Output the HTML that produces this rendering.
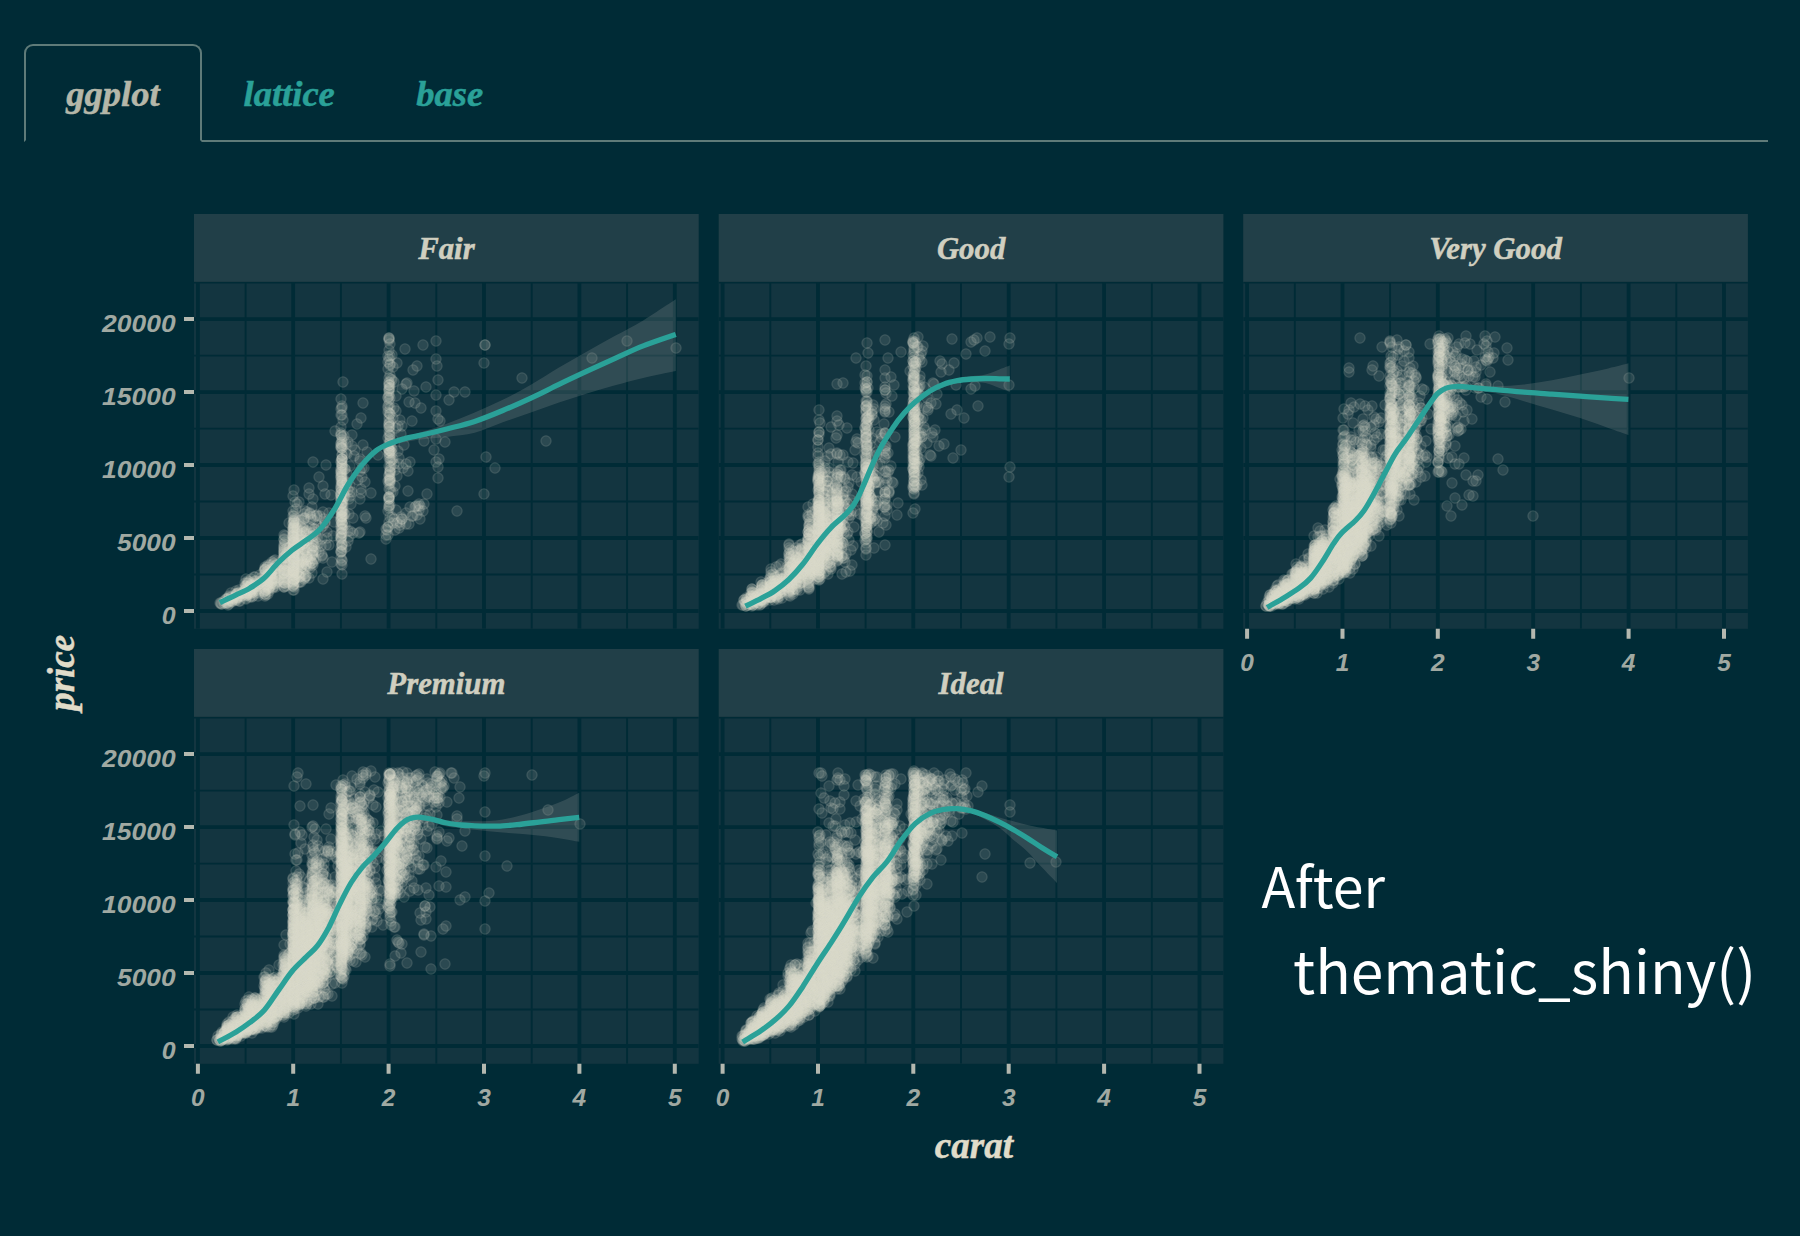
<!DOCTYPE html>
<html lang="en"><head><meta charset="utf-8"><title>thematic_shiny</title>
<style>
html,body{margin:0;padding:0;background:#002B36;}
body{width:1800px;height:1236px;position:relative;overflow:hidden;font-family:"Liberation Serif",serif;color:#EEE8D5;}
ul.nav{list-style:none;margin:0;padding:0;position:absolute;left:24px;top:44px;width:1744px;height:96px;border-bottom:2px solid #5f7b79;display:flex;}
ul.nav li{margin:0 0 -2px 0;}
ul.nav a{display:block;box-sizing:border-box;height:98px;text-align:center;border:2px solid transparent;border-radius:9px 9px 0 0;color:#2AA198;text-decoration:none;font:italic bold 36.5px/96px "Liberation Serif",serif;-webkit-text-stroke:.5px currentColor;}
ul.nav li.active a{color:#b5b7a9;border-color:#5f7b79 #5f7b79 #002B36 #5f7b79;background:#002B36;}
svg.plot{position:absolute;left:0;top:0;}
.st{font:italic bold 30.8px "Liberation Serif",serif;fill:#d0cfc0;stroke:#d0cfc0;stroke-width:.5px;text-anchor:middle;}
.tk{font:italic bold 23px "Liberation Sans",sans-serif;fill:#a0a9a2;}
.ax{font:italic bold 37px "Liberation Serif",serif;fill:#e0dcc9;stroke:#e0dcc9;stroke-width:.5px;}
.note{font:57px "Noto Sans CJK JP","Liberation Sans",sans-serif;fill:#ffffff;}
</style></head><body>
<ul class="nav"><li class="active"><a style="width:178px">ggplot</a></li><li><a style="width:174.4px">lattice</a></li><li><a style="width:146.6px">base</a></li></ul>
<svg class="plot" role="img" aria-label="price versus carat by cut" width="1800" height="1236" viewBox="0 0 1800 1236">
<defs><marker id="m" markerWidth="14" markerHeight="14" refX="7" refY="7" markerUnits="userSpaceOnUse"><circle cx="7" cy="7" r="4.2" fill="#dddccc" fill-opacity=".12"/><circle cx="7" cy="7" r="4.9" fill="none" stroke="#dddccc" stroke-opacity=".2" stroke-width="1.5"/></marker>
<clipPath id="c0"><rect x="194.0" y="281.9" width="504.7" height="346.9"/></clipPath>
<clipPath id="c1"><rect x="718.7" y="281.9" width="504.7" height="346.9"/></clipPath>
<clipPath id="c2"><rect x="1243.2" y="281.9" width="504.7" height="346.9"/></clipPath>
<clipPath id="c3"><rect x="194.0" y="716.9" width="504.7" height="346.9"/></clipPath>
<clipPath id="c4"><rect x="718.7" y="716.9" width="504.7" height="346.9"/></clipPath>
</defs>
<g class="panel">
<rect x="194.0" y="214.0" width="504.7" height="67.9" fill="#213f48"/>
<rect x="194.0" y="281.9" width="504.7" height="346.9" fill="#133540"/>
<g clip-path="url(#c0)">
<path d="M245.6 281.9V628.8M340.9 281.9V628.8M436.3 281.9V628.8M531.7 281.9V628.8M627.1 281.9V628.8M194.0 574.5H698.7M194.0 501.5H698.7M194.0 428.6H698.7M194.0 355.6H698.7M194.0 282.6H698.7" stroke="#002B36" stroke-width="1.9" fill="none"/>
<path d="M197.9 281.9V628.8M293.2 281.9V628.8M388.6 281.9V628.8M484.0 281.9V628.8M579.4 281.9V628.8M674.8 281.9V628.8M194.0 611.0H698.7M194.0 538.0H698.7M194.0 465.0H698.7M194.0 392.1H698.7M194.0 319.1H698.7" stroke="#002B36" stroke-width="3.8" fill="none"/>
<polyline points="267,576 293,567 236,594 415,507 293,550 231,597 271,577 284,573 284,535 405,349 245,588 256,587 301,534 343,503 266,585 303,554 264,580 342,551 304,546 293,524 322,556 265,594 419,510 294,553 341,552 298,560 390,453 265,589 264,581 294,557 390,472 284,562 252,593 294,523 293,559 284,562 302,547 408,471 301,576 299,564 294,579 362,468 341,539 284,573 285,571 389,388 392,517 390,451 284,556 284,550 287,571 304,514 301,572 289,548 247,591 265,575 305,550 265,581 390,458 236,595 288,582 293,567 260,584 298,551 417,515 264,592 265,577 293,549 265,587 342,463 270,576 284,573 293,554 294,556 293,559 284,564 265,591 239,596 293,540 284,558 294,553 266,578 300,531 237,597 389,378 245,592 341,477 390,408 256,582 294,562 293,572 294,555 251,591 295,552 350,486 248,587 306,557 367,452 293,582 258,589 342,529 266,590 307,547 341,529 341,504 284,587 268,578 247,583 314,532 400,420 391,492 245,593 250,590 296,574 294,556 296,545 255,581 265,578 389,508 246,595 293,555 389,339 278,568 245,590 293,582 293,551 252,589 230,601 266,584 266,590 284,567 267,584 296,563 236,599 294,571 284,560 252,591 265,585 248,593 297,528 296,546 389,383 294,563 284,575 341,500 294,543 293,547 306,532 284,558 302,567 391,447 265,569 284,582 299,577 293,533 294,542 293,541 227,599 294,561 255,589 307,553 343,483 246,590 248,594 267,580 342,560 294,560 229,596 343,525 246,586 423,345 236,597 329,545 248,581 406,464 247,593 248,590 298,549 341,489 237,594 388,408 392,453 322,555 351,504 341,525 255,586 294,558 389,458 449,400 390,414 342,513 284,564 297,567 294,566 293,548 286,557 406,384 315,535 297,504 300,540 299,541 284,566 319,477 267,585 284,570 245,593 402,519 236,598 251,585 247,595 390,436 386,529 342,503 312,555 303,560 389,450 253,589 294,565 390,489 302,557 293,543 343,529 304,549 265,574 293,566 295,552 342,515 249,588 294,549 299,574 391,451 228,602 389,480 283,565 294,542 293,562 228,600 247,593 294,540 293,540 268,579 238,595 342,529 299,556 397,523 312,563 268,594 423,511 284,572 294,545 295,538 312,553 400,522 307,531 396,428 389,389 388,406 245,586 400,525 312,507 295,578 293,537 357,424 341,499 284,586 297,534 296,523 294,566 341,469 349,499 256,585 454,392 389,424 239,593 293,543 390,356 389,390 284,554 341,495 254,586 267,581 293,557 236,596 293,558 262,581 389,453 284,554 239,601 349,514 436,462 294,575 255,584 348,490 284,578 265,596 294,572 227,599 245,590 341,547 245,594 399,464 312,548 270,570 305,550 238,593 278,574 342,548 305,546 294,531 418,506 304,574 284,552 285,575 342,545 341,519 345,485 247,595 293,549 371,559 409,402 313,546 305,536 265,569 342,459 293,536 243,593 342,509 294,576 293,532 300,577 304,530 284,544 342,506 275,568 254,577 294,579 399,458 298,569 294,560 314,546 396,396 341,505 321,546 303,562 293,586 228,601 294,559 274,570 389,450 294,552 342,496 308,540 221,604 390,441 341,527 287,576 302,561 420,506 341,513 246,589 294,542 298,550 293,535 294,527 324,519 389,497 299,547 341,435 269,574 277,565 342,480 389,420 307,557 294,568 389,475 314,559 284,580 342,519 342,483 421,408 228,603 293,555 294,546 350,492 341,510 294,522 236,591 395,486 352,446 394,408 345,469 273,579 284,580 294,549 438,467 306,541 246,596 302,559 274,569 327,538 246,586 390,467 389,340 294,532 342,445 284,557 323,579 396,510 294,572 388,511 300,549 342,511 301,536 229,597 294,551 342,565 243,592 250,587 293,571 341,472 236,600 393,418 426,387 391,379 255,586 294,580 342,545 313,555 293,544 371,493 284,570 360,499 284,579 294,568 256,590 307,541 294,535 252,597 424,441 346,453 627,341 250,590 341,494 397,363 260,575 389,338 389,394 389,499 303,563 233,598 293,573 309,566 313,551 289,523 352,492 342,533 390,398 294,529 389,443 257,584 246,579 307,512 299,565 299,539 363,445 297,530 226,602 290,565 231,600 293,529 293,562 323,526 389,497 293,570 285,542 389,400 284,546 297,556 288,562 250,586 294,569 226,603 293,523 294,534 390,435 317,515 280,570 251,592 294,569 293,568 299,520 237,593 305,511 312,548 273,587 294,575 259,593 352,435 389,425 233,599 261,578 437,366 297,572 410,462 344,514 232,601 267,575 439,459 361,418 237,594 232,602 389,455 284,587 293,496 226,599 294,579 389,484 393,459 343,469 389,476 302,542 297,548 344,436 289,552 284,557 304,519 293,581 287,578 407,383 341,541 253,585 325,523 294,537 342,406 271,574 301,568 341,492 272,582 293,530 294,584 592,358 291,575 485,345 250,593 345,496 389,489 276,569 266,595 303,552 294,545 313,551 342,523 247,587 312,555 264,571 229,598 390,474 341,500 341,517 300,542 270,573 224,603 290,547 387,530 268,586 341,495 406,513 388,448 268,575 390,414 342,474 309,547 294,537 252,583 284,552 268,584 305,578 272,571 341,551 390,385 272,579 240,601 276,565 342,448 295,579 294,540 275,579 265,570 342,481 389,427 300,545 293,536 301,562 256,583 290,553 293,586 303,564 239,590 390,481 341,504 279,578 390,481 388,481 398,451 273,564 253,596 285,583 341,512 342,544 341,399 271,576 401,434 389,499 389,385 349,537 277,568 310,527 350,496 343,506 273,588 389,396 390,426 341,497 267,587 293,527 302,540 278,581 301,520 309,538 299,502 279,566 293,528 484,363 232,601 310,513 284,550 277,580 389,506 248,584 396,411 394,382 253,592 359,533 295,525 342,459 309,494 342,525 298,543 341,485 242,593 341,488 231,598 316,551 300,582 275,572 221,603 284,583 306,534 285,558 343,382 390,471 334,522 274,583 341,517 287,553 248,583 293,579 401,517 275,586 389,423 341,448 289,572 273,578 268,582 342,468 307,566 304,518 402,426 394,464 392,355 361,493 390,478 344,492 250,594 342,465 265,570 342,408 298,563 284,539 389,350 364,468 361,489 293,571 274,581 346,547 281,562 389,497 342,523 414,391 389,435 350,531 486,457 269,589 313,499 306,576 326,465 284,577 408,491 346,444 304,561 341,552 438,478 251,596 342,574 307,543 341,446 360,471 299,576 342,465 308,560 393,523 284,548 343,420 436,411 347,474 299,562 316,542 276,578 388,369 272,569 237,600 347,483 390,479 229,604 237,598 393,367 271,574 306,564 341,509 390,365 389,427 318,526 309,578 394,519 395,530 342,459 341,538 390,422 391,466 389,404 257,586 284,547 436,359 271,572 282,564 354,456 388,362 303,543 227,603 274,573 389,449 389,522 255,577 315,529 348,531 389,466 268,567 275,584 287,570 298,548 275,578 388,527 484,494 313,536 228,605 313,543 321,528 294,584 287,548 265,594 293,590 345,469 390,505 342,516 312,573 286,558 320,516 341,427 348,541 301,543 259,591 311,519 314,529 264,591 254,588 390,439 312,528 341,478 272,562 390,443 323,558 362,477 269,588 438,380 304,533 413,516 350,466 299,582 386,535 341,487 299,564 302,565 326,545 268,571 329,513 313,553 342,523 261,581 270,586 293,511 275,560 427,494 310,514 311,533 345,514 285,536 303,544 313,565 390,472 365,482 312,541 412,516 341,481 342,536 348,442 342,490 390,451 419,504 270,565 390,388 300,524 294,519 246,599 389,453 341,443 294,521 392,380 388,356 283,582 238,598 390,480 274,584 392,460 319,552 263,584 485,345 342,561 436,341 416,506 390,344 268,588 316,536 355,450 308,559 270,575 363,403 304,568 389,446 389,338 390,483 238,597 390,432 342,437 306,564 388,412 341,558 317,537 306,576 250,597 388,438 306,565 220,603 341,415 303,550 413,370 267,567 342,501 341,433 522,378 305,577 258,596 231,593 388,398 335,431 265,567 341,534 342,448 341,447 389,498 389,413 445,442 388,397 345,489 293,573 390,445 341,474 323,486 276,573 342,478 323,512 390,470 268,565 297,573 353,518 440,421 398,426 277,574 342,533 318,544 436,439 345,525 436,395 277,582 271,573 312,536 390,517 272,583 341,537 256,581 304,579 304,529 307,557 402,519 266,572 389,502 255,587 309,488 294,521 342,459 315,547 546,441 341,472 389,385 300,539 360,461 293,516 438,419 305,518 302,531 303,526 388,527 287,572 342,442 288,573 404,445 342,455 300,545 294,514 393,492 275,566 409,524 303,544 259,584 310,559 343,499 313,563 390,364 342,455 341,537 341,463 322,539 341,564 325,522 389,359 302,558 313,462 341,520 325,494 417,366 390,375 274,561 392,449 251,579 341,470 347,482 342,485 424,504 268,585 249,582 312,563 344,495 389,431 397,476 294,490 286,565 246,598 241,596 342,516 256,591 366,518 301,536 391,460 360,532 293,585 293,575 365,516 313,520 415,403 300,556 294,526 260,586 276,587 296,509 311,561 342,512 399,528 360,459 317,516 389,417 262,581 341,492 294,528 342,503 242,596 465,392 316,559 395,470 327,532 402,389 403,468 388,535 274,563 343,517 286,571 297,531 310,562 286,555 344,496 294,520 676,348 347,454 353,533 342,482 332,562 341,533 272,580 341,476 343,511 327,572 341,521 406,524 341,444 386,539 301,582 294,587 270,587 342,476 434,450 420,519 389,382 251,585 341,409 342,461 342,440 302,528 358,480 274,568 307,557 294,590 342,484 305,569 290,555 389,506 294,580 457,511 285,583 333,536 224,601 495,468 299,574 294,516 410,507 315,516 342,517 256,593 412,421 331,495 311,517 286,586 378,455 390,461 303,540 222,604 341,461 295,502 304,532 271,583 342,472 310,568 342,415 284,540 341,435 269,591 342,466 389,391 245,583 304,543" fill="none" stroke="none" marker-start="url(#m)" marker-mid="url(#m)" marker-end="url(#m)"/>
<path d="M390.5 442.2C395.2 440.7 409.2 436.0 418.6 432.9C428.0 429.9 437.3 427.1 446.7 423.7C456.0 420.3 465.4 416.4 474.7 412.4C484.1 408.5 493.5 404.4 502.8 399.8C512.2 395.2 521.5 390.0 530.9 384.7C540.3 379.3 549.6 373.0 559.0 367.5C568.3 362.0 577.7 356.8 587.0 351.5C596.4 346.2 605.8 341.0 615.1 335.8C624.5 330.6 633.1 326.4 643.2 320.4C653.3 314.3 670.3 302.8 675.8 299.3L675.8 370.9C670.3 372.1 653.3 375.5 643.2 377.9C633.1 380.3 624.5 382.6 615.1 385.2C605.8 387.8 596.4 390.5 587.0 393.4C577.7 396.3 568.3 399.4 559.0 402.6C549.6 405.8 540.3 409.2 530.9 412.4C521.5 415.7 512.2 418.9 502.8 422.3C493.5 425.6 484.1 430.2 474.7 432.7C465.4 435.1 456.0 435.7 446.7 436.9C437.3 438.0 428.0 438.4 418.6 439.7C409.2 441.0 395.2 443.9 390.5 444.7Z" fill="#99a09c" fill-opacity=".22"/>
<path d="M219.8 602.5C222.5 601.2 231.1 597.4 236.1 594.9C241.2 592.5 245.5 590.7 250.1 587.9C254.8 585.1 259.5 582.3 264.2 578.1C268.9 573.9 273.5 567.3 278.2 562.6C282.9 558.0 287.6 553.8 292.3 550.0C296.9 546.3 301.6 543.7 306.3 540.2C311.0 536.7 315.7 534.1 320.3 529.0C325.0 523.8 329.7 516.8 334.4 509.3C339.1 501.8 343.7 491.5 348.4 484.0C353.1 476.5 357.8 470.0 362.4 464.4C367.1 458.8 371.8 453.9 376.5 450.3C381.2 446.8 385.8 445.3 390.5 443.3C395.2 441.4 399.9 439.8 404.6 438.6C409.2 437.3 411.6 437.3 418.6 435.7C425.6 434.2 437.3 431.4 446.7 429.0C456.0 426.6 465.4 424.5 474.7 421.4C484.1 418.3 493.5 414.4 502.8 410.5C512.2 406.6 521.5 402.5 530.9 398.1C540.3 393.8 549.6 388.9 559.0 384.4C568.3 379.9 577.7 375.5 587.0 371.2C596.4 366.8 605.8 362.5 615.1 358.3C624.5 354.1 633.1 349.9 643.2 345.9C653.3 341.9 670.3 336.3 675.8 334.4" fill="none" stroke="#2AA198" stroke-width="5.3" stroke-linejoin="round"/>
</g>
<text class="st" x="446.4" y="259.0">Fair</text>
</g>
<g class="panel">
<rect x="718.7" y="214.0" width="504.7" height="67.9" fill="#213f48"/>
<rect x="718.7" y="281.9" width="504.7" height="346.9" fill="#133540"/>
<g clip-path="url(#c1)">
<path d="M770.3 281.9V628.8M865.6 281.9V628.8M961.0 281.9V628.8M1056.4 281.9V628.8M1151.8 281.9V628.8M718.7 574.5H1223.4M718.7 501.5H1223.4M718.7 428.6H1223.4M718.7 355.6H1223.4M718.7 282.6H1223.4" stroke="#002B36" stroke-width="1.9" fill="none"/>
<path d="M722.6 281.9V628.8M818.0 281.9V628.8M913.3 281.9V628.8M1008.7 281.9V628.8M1104.1 281.9V628.8M1199.5 281.9V628.8M718.7 611.0H1223.4M718.7 538.0H1223.4M718.7 465.0H1223.4M718.7 392.1H1223.4M718.7 319.1H1223.4" stroke="#002B36" stroke-width="3.8" fill="none"/>
<polyline points="914,481 819,513 790,568 809,577 790,571 790,581 751,603 776,588 865,499 843,455 762,588 819,555 818,537 753,601 790,576 771,588 819,542 808,579 790,550 761,600 819,511 819,435 824,551 752,601 914,439 808,579 809,560 747,602 789,568 865,428 809,563 773,590 866,493 808,549 761,601 825,472 881,434 842,574 809,534 790,582 756,594 914,481 778,577 798,578 752,604 771,588 819,529 762,600 818,577 771,569 810,554 789,581 838,493 790,583 754,599 830,567 761,604 975,386 914,459 790,562 789,570 809,571 767,590 771,586 789,573 809,547 799,584 808,557 754,601 809,581 808,562 819,528 845,508 757,602 791,573 819,543 789,583 762,597 808,532 808,551 797,577 914,415 811,560 819,568 759,598 789,584 848,487 809,559 825,508 867,481 789,569 790,567 796,584 771,591 819,507 914,473 819,553 913,444 809,548 752,604 755,601 818,570 868,388 796,571 803,574 751,599 776,595 883,523 789,576 790,571 808,560 787,586 818,534 827,481 755,597 776,596 751,604 755,598 800,561 809,567 803,574 789,592 771,588 867,382 819,565 762,593 781,592 770,591 818,518 819,562 819,534 819,538 790,561 789,587 790,588 785,586 866,517 784,578 790,578 809,574 810,545 818,528 751,597 859,501 773,592 885,451 791,563 789,577 770,587 817,569 820,556 753,590 794,568 818,553 808,555 789,567 771,591 747,605 805,570 755,600 759,600 765,593 818,536 808,517 789,562 809,540 818,506 818,554 792,569 752,592 810,565 775,581 786,575 820,543 808,538 789,587 757,596 819,563 818,565 798,573 818,557 770,591 833,519 782,585 745,602 751,596 820,503 804,567 839,549 762,599 758,595 808,561 761,596 833,531 770,587 771,592 809,567 830,544 809,570 758,598 838,504 827,481 770,583 868,503 819,523 779,591 758,601 745,604 825,468 774,595 809,557 761,600 772,594 770,589 867,509 913,408 837,539 765,594 915,423 809,552 790,567 793,566 821,472 764,599 809,556 796,572 819,526 754,602 821,501 752,598 837,512 763,594 819,510 843,543 800,579 773,591 865,375 762,587 777,589 818,478 775,588 809,572 763,602 808,539 763,597 779,566 746,603 757,597 796,583 847,534 827,528 770,592 836,493 771,597 914,426 811,565 751,596 818,507 818,502 770,579 780,590 759,599 779,588 809,566 782,586 923,418 761,590 762,593 746,606 762,599 867,513 789,548 866,494 913,375 914,454 867,437 865,383 756,597 771,597 815,511 770,586 825,495 868,470 848,504 793,563 848,462 818,515 795,570 844,501 764,600 809,550 819,564 810,544 819,533 866,490 866,500 750,604 827,500 781,583 796,578 914,430 914,450 818,570 755,603 914,379 789,591 837,533 808,578 808,568 819,555 819,559 795,580 915,463 818,456 936,404 843,383 839,539 793,594 752,589 868,469 914,428 914,363 810,560 914,439 917,485 808,544 914,440 819,538 809,526 761,595 819,521 819,561 837,517 914,399 828,536 819,506 795,576 799,577 866,458 771,588 808,544 832,494 866,526 810,577 800,564 842,556 914,421 823,549 819,541 792,577 770,597 819,513 914,443 914,410 775,584 818,547 868,505 819,558 814,562 818,521 845,500 867,511 914,376 822,533 782,581 842,520 797,566 775,587 838,511 774,583 869,518 821,511 851,550 760,594 826,552 796,564 869,497 770,596 764,602 913,366 770,580 826,539 914,435 771,595 795,560 868,417 867,472 823,477 837,514 799,586 792,578 866,512 837,497 851,500 780,587 753,593 867,491 772,584 779,583 781,585 748,602 819,523 819,557 818,533 884,507 914,386 770,594 747,599 753,605 818,551 819,568 838,544 790,589 819,548 763,600 866,434 819,473 850,571 819,558 809,572 866,437 831,552 867,499 870,479 842,531 838,555 915,437 809,524 867,402 771,585 753,605 792,579 796,570 913,467 915,362 819,519 819,512 802,552 818,540 789,590 819,567 837,546 866,479 820,423 811,566 867,492 812,515 791,556 918,473 819,542 886,478 867,446 798,562 829,528 837,435 828,517 819,522 835,485 837,561 819,558 771,597 837,502 839,425 819,524 780,581 838,547 839,521 809,550 915,435 819,545 844,492 887,510 866,450 826,553 915,405 774,592 818,548 827,543 818,535 776,595 818,532 789,593 820,553 914,338 843,543 801,583 831,427 792,581 809,535 865,454 799,567 914,367 865,428 866,506 827,507 861,482 802,570 792,584 838,557 824,536 914,389 894,385 841,544 916,442 884,457 793,564 771,582 819,513 927,443 747,599 831,454 832,545 775,592 822,474 914,460 868,498 915,472 753,596 866,456 913,405 867,523 820,557 828,555 868,353 867,526 829,532 778,599 748,605 815,558 892,482 831,536 809,526 818,563 827,512 824,512 821,483 825,552 819,571 810,565 922,362 810,572 819,466 819,522 819,564 914,396 867,483 866,474 837,524 831,520 818,541 866,486 799,558 799,559 916,415 820,538 914,456 819,528 837,524 818,550 801,582 855,511 828,544 762,585 779,594 754,596 753,592 914,433 775,592 873,473 808,532 914,456 799,560 875,519 833,544 826,523 808,539 777,593 754,593 819,543 822,555 766,598 797,566 825,517 818,543 913,469 837,536 792,584 913,456 819,462 819,548 920,437 819,565 924,387 868,474 860,514 776,584 822,561 771,585 789,558 866,459 866,555 819,551 885,340 871,517 949,370 869,504 915,410 819,543 914,417 845,562 866,493 818,510 857,439 839,540 770,582 868,420 913,405 825,552 819,560 836,495 846,491 838,535 886,393 819,563 782,598 820,531 915,448 875,475 913,343 812,536 783,579 915,377 867,532 838,477 819,577 802,569 839,504 834,539 819,558 818,529 825,513 844,533 914,378 914,413 821,551 823,519 819,516 780,596 797,561 819,510 853,546 830,536 827,519 821,531 825,461 819,516 775,581 829,548 777,586 882,438 819,535 875,505 867,524 941,372 818,516 885,390 914,388 914,387 836,508 800,581 914,437 913,341 829,534 866,423 873,508 914,421 829,504 800,590 843,498 866,523 919,387 1010,338 819,574 820,525 914,457 913,355 913,412 826,515 837,490 820,547 771,598 822,548 809,534 835,549 776,584 819,574 763,593 793,573 914,484 806,566 819,538 780,593 811,552 865,474 819,559 849,515 820,526 818,482 782,579 764,601 808,574 768,594 866,468 818,500 886,525 794,579 837,421 810,570 819,567 810,556 915,486 809,529 784,590 914,468 823,493 799,568 803,582 847,513 802,560 917,466 951,414 852,565 837,516 802,572 837,532 876,505 914,472 867,485 870,445 824,564 866,503 820,579 867,483 866,442 822,523 841,476 937,394 778,597 832,549 914,435 914,472 834,551 801,550 869,494 871,498 842,542 803,574 819,552 867,513 818,510 771,597 808,541 867,453 759,603 867,539 885,492 866,548 819,492 865,509 826,486 843,495 795,589 838,528 820,550 771,585 810,575 990,337 779,590 818,480 820,570 834,522 866,438 856,442 866,432 818,527 913,392 818,502 866,439 830,563 920,380 797,570 866,410 914,450 885,485 767,596 818,576 801,556 895,437 749,603 866,431 823,561 792,590 742,605 838,560 866,536 801,557 819,488 866,467 814,567 829,541 809,519 775,577 797,573 829,555 800,564 866,449 808,541 915,412 766,597 790,559 869,487 889,412 799,569 744,600 838,532 776,587 819,543 838,538 819,580 952,339 872,476 819,485 820,515 822,546 801,577 840,520 803,571 818,524 794,571 866,429 761,582 866,508 780,579 819,420 818,481 823,547 829,528 818,490 910,371 838,554 808,583 819,495 810,552 913,447 781,590 867,426 839,513 776,567 781,583 801,562 751,593 866,446 782,583 780,587 814,561 815,579 810,569 838,517 810,557 879,532 919,394 786,577 837,384 872,510 819,432 914,350 851,511 786,582 810,559 832,524 824,493 828,476 826,542 796,567 829,551 810,574 942,364 808,574 914,481 819,474 838,518 866,523 865,534 800,564 822,481 932,433 827,524 867,526 819,476 916,363 823,545 837,478 914,443 836,505 939,446 818,453 795,573 866,457 842,548 810,536 865,388 913,463 880,464 886,454 778,594 810,551 760,603 812,526 867,537 830,491 866,463 792,587 914,392 818,518 866,504 826,548 814,543 792,582 793,576 777,580 885,471 828,544 837,501 914,357 865,497 819,516 834,525 777,585 800,549 838,552 924,427 866,503 829,511 819,493 824,499 796,558 783,589 802,566 819,487 802,558 824,573 852,475 812,512 819,521 800,570 831,547 919,357 838,527 928,408 956,385 801,550 869,489 819,468 791,554 838,526 813,554 825,539 865,472 878,466 914,392 913,459 876,452 888,453 914,487 880,442 915,444 771,581 866,401 816,544 844,558 786,587 829,448 837,508 917,464 814,566 866,464 763,591 866,424 842,556 812,573 781,589 825,564 875,501 770,597 779,585 915,366 761,590 815,535 809,583 827,563 853,463 814,568 914,477 920,459 819,500 1009,477 793,589 843,525 918,417 928,410 837,499 919,467 832,507 793,563 922,437 867,488 801,573 870,475 829,555 913,386 866,513 838,542 875,482 838,507 841,523 825,511 914,477 897,515 914,494 825,514 872,500 758,603 833,536 793,572 766,594 837,487 913,488 918,458 771,575 787,567 851,515 917,395 814,551 831,500 821,486 809,589 913,381 913,445 827,545 864,517 819,410 915,460 914,403 808,507 867,392 829,472 873,405 792,565 873,510 919,415 879,482 765,597 819,530 866,419 877,521 823,550 834,488 762,594 838,475 866,549 865,540 799,577 818,440 866,514 802,561 914,400 824,485 799,574 752,606 866,505 866,518 831,527 818,479 823,548 837,551 914,398 832,542 867,417 824,530 812,564 885,507 819,504 810,544 913,453 843,558 839,503 845,479 914,344 865,473 914,407 872,411 914,373 877,432 779,588 837,515 789,545 830,518 914,449 953,458 916,439 767,591 780,581 885,370 917,347 757,605 792,573 838,505 868,475 811,532 802,568 798,551 819,490 1009,385 749,599 913,361 825,555 819,500 832,542 744,600 805,547 836,438 793,551 840,455 885,448 827,530 814,564 838,522 866,392 826,534 764,588 837,542 811,548 819,500 840,528 799,578 838,535 802,562 824,514 819,475 914,387 767,597 921,448 914,463 837,545 871,475 785,585 866,528 833,516 914,377 971,389 799,573 885,446 825,557 933,383 832,539 831,496 915,464 869,430 752,589 865,488 809,534 829,544 837,524 920,360 835,519 870,470 917,455 919,419 799,573 867,444 833,529 867,483 866,467 891,466 885,412 868,471 822,523 813,555 815,529 825,533 866,418 829,528 814,570 781,579 835,540 914,424 743,605 914,381 885,499 819,536 977,338 767,583 837,556 797,563 871,523 866,438 915,455 813,535 917,405 781,564 919,462 824,548 826,516 858,443 819,503 820,534 866,444 794,572 827,519 809,530 837,547 884,424 885,390 916,367 915,430 914,459 811,558 837,454 777,582 836,521 885,458 831,534 913,401 873,521 800,583 786,579 875,483 887,481 819,506 869,465 918,337 867,422 933,437 771,572 847,428 838,506 917,387 809,585 873,478 826,534 820,521 844,477 782,592 789,553 886,404 874,409 914,485 914,431 885,545 828,574 777,577 826,541 978,406 792,567 916,391 774,575 746,606 804,561 840,470 838,520 820,483 914,445 921,420 830,518 799,572 920,376 887,505 833,531 825,522 838,501 823,558 813,541 914,431 760,605 866,501 812,551 868,490 814,560 914,424 926,407 870,467 913,418 914,373 802,548 865,464 764,587 831,530 889,493 867,382 869,500 786,578 870,519 838,545 914,493 828,456 915,406 810,551 828,553 839,531 974,340 819,506 913,450 820,573 964,418 866,539 824,506 820,478 1009,344 837,501 866,478 866,476 914,466 796,574 819,577 916,476 931,456 867,468 914,475 815,537 823,540 849,518 866,521 819,479 865,533 944,444 866,488 819,464 813,551 828,481 821,575 819,489 828,511 914,489 865,517 841,548 808,515 828,502 867,520 834,537 776,597 789,544 826,551 837,525 819,471 827,552 869,486 868,479 813,566 789,556 837,498 867,532 800,545 877,482 813,556 914,348 823,538 919,433 810,522 826,537 837,489 822,559 913,378 818,579 866,434 810,568 832,536 874,516 915,509 872,415 852,494 822,520 824,544 819,507 831,567 838,559 826,523 841,516 841,529 866,366 915,422 866,461 819,565 915,369 823,534 827,538 872,465 1010,467 828,491 833,559 868,483 835,501 826,515 866,413 804,559 819,571 892,396 819,517 832,477 819,477 829,559 827,528 841,517 818,464 825,498 816,529 866,468 869,486 818,440 885,406 837,523 957,410 775,578 784,581 868,503 923,346 874,479 885,505 835,531 815,575 814,552 825,504 914,403 844,525 819,530 828,548 868,409 799,558 867,425 814,570 796,548 836,529 809,588 921,480 809,516 931,403 789,591 867,405 830,548 781,573 796,589 846,554 914,428 766,589 885,494 866,407 819,485 848,511 823,520 830,566 832,555 914,414 826,571 921,354 871,518 801,551 918,423 876,482 848,532 819,566 808,587 915,443 789,554 849,540 913,361 838,520 866,497 843,519 819,493 913,380 822,521 874,420 916,427 916,467 841,470 770,578 845,527 922,437 811,571 961,450 843,505 827,490 777,598 872,414 837,500 834,508 869,494 826,522 831,541 773,581 793,592 866,528 885,492 830,563 854,527 829,529 866,465 797,590 824,523 885,411 866,390 818,447 914,363 866,411 916,441 837,488 824,556 823,523 807,560 885,378 812,548 802,566 885,433 838,508 809,530 815,564 762,585 901,352 870,495 842,487 792,586 837,453 825,503 925,430 885,433 867,480 833,524 797,582 889,492 802,544 918,394 823,512 835,541 935,430 915,423 794,555 888,472 823,525 872,438 913,417 867,418 802,562 915,477 811,547 819,505 822,562 915,370 857,477 922,351 746,602 774,600 814,546 784,586 866,386 829,555 813,504 885,409 889,491 837,556 885,499 966,354 826,547 891,377 828,562 807,576 786,570 916,362 866,433 837,525 831,546 830,538 833,503 838,532 866,543 838,529 810,576 868,501 762,585 838,555 867,530 915,434 885,516 793,556 873,466 915,412 828,530 819,487 841,528 837,474 867,510 869,507 916,393 866,471 913,469 846,572 840,524 868,465 893,483 820,570 823,537 831,534 773,574 837,555 837,524 886,472 916,450 866,389 921,433 828,486 914,352 825,545 837,513 871,455 840,526 866,406 869,516 834,543 878,501 819,432 886,446 838,462 920,386 914,471 795,561 835,514 795,583 785,583 831,569 885,434 876,476 818,476 746,598 869,489 804,566 917,441 869,486 837,502 814,568 784,585 820,509 796,557 762,586 869,416 849,483 856,358 832,502 797,580 805,571 837,482 812,561 878,492 867,451 833,550 846,509 913,343 915,420 866,406 913,513 940,361 922,485 770,600 918,347 885,387 871,498 823,511 916,487 914,464 829,541 811,563 914,394 841,477 837,531 789,595 837,554 934,384 927,398 867,376 954,363 867,401 930,455 804,553 888,358 837,551 867,445 830,507 985,351 819,498 780,575 809,587 867,343 823,558 810,570 821,570 898,503 832,488 827,553 837,535 810,524 877,455 837,416 866,498 829,468 795,552 790,557 913,486 841,498 917,447 915,342 869,419 828,532 855,450 790,596 867,449 781,574 827,564 837,508 889,470 848,504 825,528 837,495 913,342 918,388 971,342 914,419 813,574 788,580 838,472 874,548 837,541 915,411 802,578" fill="none" stroke="none" marker-start="url(#m)" marker-mid="url(#m)" marker-end="url(#m)"/>
<path d="M929.3 390.3C933.9 388.3 950.3 380.8 957.3 378.5C964.4 376.1 966.7 376.9 971.4 376.2C976.0 375.6 980.7 375.7 985.4 374.5C990.1 373.4 995.4 371.0 999.4 369.5C1003.5 368.0 1008.1 366.2 1009.8 365.6L1009.8 392.0C1008.1 391.3 1003.5 389.5 999.4 388.0C995.4 386.5 990.1 383.9 985.4 383.0C980.7 382.0 976.0 382.4 971.4 382.4C966.7 382.4 964.4 381.3 957.3 383.0C950.3 384.7 933.9 390.9 929.3 392.5Z" fill="#99a09c" fill-opacity=".22"/>
<path d="M745.4 606.2C747.9 604.9 755.9 601.2 760.8 598.6C765.7 596.0 770.2 593.9 774.8 590.7C779.5 587.5 784.2 583.9 788.9 579.5C793.6 575.0 798.2 569.9 802.9 564.0C807.6 558.2 812.3 550.5 817.0 544.4C821.6 538.3 826.3 532.5 831.0 527.6C835.7 522.6 841.3 518.7 845.0 514.9C848.8 511.2 851.1 508.4 853.5 505.1C855.8 501.8 857.2 499.0 859.1 495.3C860.9 491.5 862.3 488.0 864.7 482.6C867.0 477.3 870.3 469.1 873.1 463.0C875.9 456.9 878.3 452.0 881.5 446.1C884.8 440.3 889.0 433.4 892.8 427.9C896.5 422.4 900.2 417.6 904.0 413.3C907.7 409.0 911.0 405.7 915.2 402.1C919.4 398.4 924.6 394.3 929.3 391.4C933.9 388.4 938.6 386.1 943.3 384.4C948.0 382.6 952.7 381.6 957.3 380.7C962.0 379.8 966.7 379.4 971.4 379.0C976.0 378.7 980.7 378.5 985.4 378.5C990.1 378.4 995.4 378.7 999.4 378.8C1003.5 378.9 1008.1 379.0 1009.8 379.0" fill="none" stroke="#2AA198" stroke-width="5.3" stroke-linejoin="round"/>
</g>
<text class="st" x="971.1" y="259.0">Good</text>
</g>
<g class="panel">
<rect x="1243.2" y="214.0" width="504.7" height="67.9" fill="#213f48"/>
<rect x="1243.2" y="281.9" width="504.7" height="346.9" fill="#133540"/>
<g clip-path="url(#c2)">
<path d="M1294.8 281.9V628.8M1390.1 281.9V628.8M1485.5 281.9V628.8M1580.9 281.9V628.8M1676.3 281.9V628.8M1243.2 574.5H1747.9M1243.2 501.5H1747.9M1243.2 428.6H1747.9M1243.2 355.6H1747.9M1243.2 282.6H1747.9" stroke="#002B36" stroke-width="1.9" fill="none"/>
<path d="M1247.1 281.9V628.8M1342.5 281.9V628.8M1437.8 281.9V628.8M1533.2 281.9V628.8M1628.6 281.9V628.8M1724.0 281.9V628.8M1243.2 611.0H1747.9M1243.2 538.0H1747.9M1243.2 465.0H1747.9M1243.2 392.1H1747.9M1243.2 319.1H1747.9" stroke="#002B36" stroke-width="3.8" fill="none"/>
<polyline points="1276,603 1278,600 1299,583 1314,577 1346,541 1277,602 1279,597 1361,487 1299,592 1304,578 1390,476 1399,445 1409,421 1439,417 1334,546 1317,567 1438,401 1276,596 1305,582 1276,604 1439,434 1294,585 1409,436 1399,434 1503,470 1270,603 1326,583 1316,575 1337,558 1356,499 1285,599 1343,531 1399,468 1355,521 1295,586 1314,589 1296,589 1333,568 1439,472 1286,595 1277,601 1400,466 1281,599 1314,578 1279,602 1323,571 1396,455 1439,403 1388,483 1316,578 1315,560 1344,546 1351,483 1344,531 1321,566 1345,529 1342,528 1297,588 1343,528 1342,533 1297,593 1296,591 1314,575 1314,578 1301,581 1343,566 1314,587 1391,462 1333,549 1278,602 1376,530 1392,420 1296,587 1409,418 1318,577 1390,420 1350,531 1344,500 1283,600 1413,423 1276,596 1344,543 1286,598 1272,603 1342,507 1343,526 1286,596 1356,486 1276,603 1394,475 1438,374 1279,601 1343,536 1343,509 1364,534 1344,536 1376,508 1282,601 1297,577 1354,524 1333,556 1342,518 1295,591 1277,597 1367,517 1438,340 1285,596 1285,600 1362,507 1276,595 1316,579 1330,553 1315,570 1390,507 1343,548 1404,486 1391,458 1372,478 1439,380 1315,562 1344,504 1358,512 1334,538 1281,591 1273,603 1342,562 1333,564 1342,523 1418,472 1343,505 1300,584 1297,590 1344,524 1276,599 1287,591 1333,569 1342,540 1314,566 1299,586 1371,504 1288,599 1272,604 1343,547 1439,389 1344,529 1344,488 1314,568 1363,505 1337,572 1323,571 1336,558 1337,509 1280,594 1343,533 1344,514 1344,478 1302,590 1318,568 1286,599 1390,475 1269,605 1412,443 1334,548 1277,600 1277,593 1390,520 1300,588 1447,343 1439,430 1270,601 1345,497 1343,514 1300,588 1318,572 1292,592 1314,582 1361,477 1314,578 1344,528 1325,572 1333,563 1346,486 1342,519 1346,531 1274,594 1279,598 1351,456 1390,450 1271,602 1440,397 1314,570 1319,564 1342,522 1317,579 1281,593 1299,593 1296,579 1391,516 1364,520 1283,598 1334,556 1279,597 1315,580 1334,568 1361,496 1340,548 1451,389 1355,512 1328,580 1413,404 1314,565 1363,488 1286,591 1401,469 1307,584 1316,573 1318,573 1302,590 1297,589 1281,600 1390,446 1343,537 1282,600 1315,578 1439,420 1314,562 1334,541 1343,498 1390,426 1279,603 1321,565 1391,462 1346,550 1363,464 1364,477 1275,604 1286,591 1269,601 1302,586 1302,568 1347,533 1333,553 1314,574 1390,509 1314,587 1333,536 1372,506 1361,472 1316,566 1349,548 1284,597 1285,594 1314,571 1283,595 1289,594 1487,399 1303,583 1283,591 1314,575 1409,475 1275,600 1295,592 1294,593 1324,544 1367,502 1333,549 1440,366 1298,581 1302,578 1351,403 1334,542 1402,452 1344,545 1342,531 1269,605 1342,483 1298,580 1348,520 1438,434 1396,456 1305,582 1319,574 1391,483 1302,584 1343,481 1343,523 1390,449 1288,591 1283,589 1358,546 1340,553 1302,591 1314,573 1390,442 1317,563 1333,559 1439,412 1348,500 1396,383 1395,452 1351,528 1288,598 1308,580 1283,595 1333,562 1303,577 1333,555 1348,536 1407,445 1299,587 1391,445 1304,589 1295,585 1343,559 1314,566 1296,590 1343,553 1341,534 1338,563 1299,594 1302,580 1391,416 1340,541 1274,601 1443,384 1390,486 1297,581 1333,552 1295,592 1379,516 1304,580 1297,596 1333,543 1369,507 1319,573 1290,594 1297,588 1314,568 1390,487 1390,459 1343,543 1349,372 1357,490 1286,589 1272,601 1314,572 1390,488 1393,471 1306,576 1314,573 1343,540 1299,577 1333,550 1343,564 1350,534 1286,593 1391,426 1333,555 1342,516 1315,555 1391,465 1344,509 1301,584 1399,461 1295,584 1279,594 1333,552 1297,585 1324,570 1288,595 1315,586 1275,599 1320,573 1285,587 1390,478 1281,601 1288,589 1399,390 1346,542 1314,561 1333,562 1438,413 1295,585 1365,517 1444,447 1441,358 1391,523 1314,593 1319,562 1393,474 1271,601 1364,523 1365,477 1347,512 1392,444 1357,530 1362,531 1407,452 1336,551 1439,407 1286,600 1321,579 1353,524 1269,606 1286,592 1333,527 1349,491 1404,476 1316,566 1438,395 1314,570 1348,458 1315,558 1359,456 1304,586 1344,551 1343,568 1346,568 1321,571 1439,413 1306,583 1302,583 1439,388 1314,564 1364,494 1343,546 1318,562 1333,559 1333,540 1396,460 1314,580 1318,584 1325,578 1361,461 1390,499 1411,387 1325,565 1273,603 1320,553 1361,515 1333,537 1276,591 1344,500 1295,580 1344,540 1335,539 1397,477 1321,567 1295,595 1347,495 1341,571 1343,553 1320,578 1307,592 1354,468 1320,581 1343,513 1349,548 1362,461 1346,524 1325,564 1317,570 1343,495 1296,580 1342,529 1315,568 1411,477 1329,549 1288,588 1469,495 1362,544 1379,502 1296,580 1343,512 1344,521 1391,462 1399,516 1349,473 1334,572 1326,569 1274,596 1343,492 1343,519 1287,598 1390,457 1358,511 1300,593 1361,490 1364,503 1330,546 1390,480 1285,600 1335,559 1356,530 1390,469 1410,437 1344,462 1334,570 1315,559 1355,535 1324,560 1314,572 1348,553 1347,521 1364,538 1362,535 1333,577 1343,511 1319,572 1361,518 1326,573 1307,579 1343,572 1470,344 1316,569 1352,541 1296,573 1333,527 1340,555 1287,593 1343,551 1362,466 1270,595 1358,512 1362,470 1449,381 1366,533 1314,581 1403,453 1365,475 1300,592 1358,536 1346,557 1323,564 1334,536 1370,502 1363,520 1304,572 1321,555 1352,530 1387,525 1392,511 1347,532 1362,505 1296,597 1343,546 1323,581 1314,583 1363,496 1439,406 1379,422 1355,543 1442,425 1333,526 1365,494 1343,551 1353,523 1361,516 1280,592 1358,539 1315,568 1303,590 1298,578 1320,569 1409,405 1295,573 1350,502 1333,510 1441,404 1362,482 1344,552 1486,360 1314,558 1361,507 1317,557 1467,410 1350,520 1393,458 1348,525 1317,560 1407,479 1318,578 1347,554 1306,580 1269,605 1295,595 1377,437 1349,536 1279,594 1342,540 1439,368 1278,585 1339,559 1391,492 1391,461 1286,585 1303,586 1319,585 1345,544 1289,593 1335,557 1358,519 1438,406 1348,542 1396,490 1295,595 1346,506 1360,532 1333,546 1414,381 1333,572 1357,528 1333,565 1390,459 1347,511 1364,482 1299,583 1344,555 1343,438 1334,545 1401,431 1364,511 1343,563 1372,527 1344,551 1269,604 1281,593 1315,582 1409,444 1343,489 1333,524 1334,575 1334,532 1314,558 1342,541 1318,578 1390,458 1367,529 1412,398 1296,595 1301,574 1354,440 1390,438 1288,584 1315,565 1361,498 1439,355 1391,477 1323,568 1352,535 1343,554 1298,585 1356,500 1346,471 1309,574 1347,564 1355,554 1409,397 1365,528 1363,465 1344,501 1327,556 1340,515 1391,495 1410,412 1314,589 1345,489 1345,512 1359,516 1397,451 1314,562 1344,479 1390,368 1364,501 1344,533 1441,410 1406,445 1311,571 1390,486 1318,566 1397,486 1359,491 1334,580 1277,593 1354,526 1368,515 1390,507 1351,488 1344,464 1345,516 1362,513 1353,545 1336,536 1322,573 1439,400 1439,452 1344,542 1308,579 1343,568 1354,511 1353,465 1438,430 1391,470 1355,564 1336,509 1301,595 1348,548 1323,569 1391,437 1361,484 1362,517 1342,486 1372,370 1345,512 1442,343 1352,547 1343,570 1391,497 1291,594 1455,446 1275,600 1333,532 1355,540 1335,562 1438,376 1363,481 1349,410 1404,451 1400,455 1353,494 1353,500 1356,442 1333,531 1301,580 1348,532 1302,581 1344,489 1296,573 1364,516 1505,402 1343,544 1352,523 1353,489 1337,567 1336,557 1439,382 1346,572 1315,558 1353,423 1288,601 1279,589 1335,524 1333,573 1417,470 1316,584 1290,598 1343,509 1295,575 1439,421 1354,407 1380,508 1327,574 1306,566 1391,439 1274,596 1361,526 1334,567 1298,584 1355,511 1404,443 1408,381 1391,486 1409,452 1345,539 1391,437 1488,352 1287,591 1440,421 1363,426 1314,551 1369,515 1347,525 1349,556 1319,582 1347,505 1308,554 1352,537 1319,582 1349,528 1347,558 1362,495 1306,580 1399,496 1320,561 1323,556 1305,590 1379,376 1387,512 1373,467 1342,560 1439,439 1438,397 1391,440 1364,487 1275,590 1412,438 1362,540 1334,575 1395,466 1391,473 1344,494 1391,482 1323,550 1348,495 1272,595 1319,588 1326,554 1291,595 1349,507 1390,444 1439,416 1344,537 1319,569 1349,550 1279,593 1362,480 1401,443 1330,575 1347,508 1443,400 1364,521 1284,592 1352,465 1361,522 1346,570 1444,418 1438,377 1366,526 1392,466 1364,465 1444,433 1439,348 1345,510 1345,556 1289,588 1392,447 1322,580 1272,597 1392,497 1390,498 1346,547 1324,558 1334,543 1366,505 1345,474 1450,388 1354,535 1320,545 1421,446 1393,454 1448,373 1409,477 1343,499 1302,576 1373,489 1311,589 1414,458 1337,544 1352,545 1391,473 1390,429 1391,488 1335,554 1314,588 1438,428 1363,510 1394,443 1456,354 1487,341 1404,351 1361,523 1364,525 1296,598 1372,495 1377,496 1362,518 1283,604 1343,485 1349,476 1442,360 1390,499 1377,522 1362,506 1345,536 1326,568 1297,574 1410,407 1409,405 1363,529 1303,581 1391,368 1445,381 1379,536 1304,594 1366,463 1297,570 1288,580 1324,584 1355,518 1315,548 1345,503 1321,572 1413,474 1409,428 1342,497 1323,564 1315,585 1365,512 1321,572 1438,399 1338,574 1305,591 1346,483 1391,433 1390,412 1394,437 1363,508 1362,494 1350,524 1391,450 1362,521 1392,407 1357,525 1349,536 1356,526 1306,576 1342,557 1473,377 1361,506 1347,482 1293,588 1276,591 1362,537 1391,427 1344,472 1402,447 1324,546 1367,523 1391,490 1397,371 1439,368 1401,482 1397,481 1440,437 1392,515 1391,467 1409,463 1441,377 1372,464 1371,448 1339,514 1344,546 1353,538 1326,580 1388,475 1438,422 1355,529 1269,600 1369,477 1366,529 1358,498 1396,438 1366,501 1411,484 1328,563 1344,514 1397,421 1354,492 1339,536 1346,457 1314,582 1373,514 1343,555 1340,563 1343,556 1267,603 1343,560 1314,590 1377,469 1352,546 1279,603 1416,427 1356,537 1290,594 1444,405 1391,436 1409,429 1371,503 1351,484 1369,494 1355,537 1391,469 1344,523 1314,560 1317,546 1348,524 1361,528 1314,558 1392,506 1438,343 1301,567 1295,578 1396,421 1361,496 1302,591 1361,502 1329,569 1438,390 1366,492 1363,501 1369,497 1391,491 1338,559 1390,465 1387,455 1285,588 1315,555 1438,433 1354,541 1414,427 1443,384 1438,427 1325,562 1349,502 1390,398 1284,580 1336,554 1302,575 1410,442 1299,596 1396,458 1337,539 1477,350 1391,506 1323,578 1450,396 1318,528 1409,434 1347,521 1362,477 1362,556 1352,530 1304,576 1306,589 1391,475 1438,360 1314,556 1342,485 1346,535 1319,547 1344,553 1398,496 1353,537 1390,482 1391,449 1291,591 1392,379 1461,429 1338,515 1440,424 1326,559 1365,514 1417,451 1323,575 1333,576 1362,472 1346,547 1343,566 1409,453 1409,386 1346,507 1398,449 1320,561 1343,496 1279,604 1380,513 1439,399 1344,534 1397,438 1397,451 1373,525 1320,555 1440,449 1391,473 1290,588 1355,455 1324,563 1359,430 1322,546 1349,498 1346,553 1439,356 1361,503 1366,515 1410,438 1348,544 1393,462 1356,503 1398,418 1400,406 1363,515 1351,517 1395,478 1347,537 1350,540 1296,576 1283,588 1443,431 1325,530 1338,564 1363,515 1352,552 1343,565 1393,386 1409,485 1322,577 1390,447 1390,494 1362,489 1410,411 1363,522 1337,541 1362,550 1362,503 1394,424 1337,536 1395,432 1290,588 1371,481 1314,551 1292,596 1392,485 1360,498 1439,386 1399,347 1398,399 1337,560 1291,596 1391,454 1359,523 1354,543 1390,432 1361,528 1443,352 1410,494 1443,389 1376,479 1363,514 1362,497 1305,588 1373,530 1354,528 1392,458 1401,383 1337,548 1339,546 1344,494 1315,586 1345,522 1392,367 1297,574 1287,581 1375,505 1447,401 1367,511 1373,483 1390,366 1343,502 1368,513 1391,514 1439,448 1353,540 1337,534 1357,509 1351,542 1366,516 1362,509 1362,522 1354,519 1320,562 1362,444 1344,493 1366,480 1365,458 1346,505 1391,493 1305,590 1439,402 1338,546 1363,528 1374,496 1374,518 1401,456 1305,586 1347,557 1413,460 1390,454 1441,377 1358,500 1445,423 1397,454 1384,467 1392,457 1361,523 1308,587 1326,559 1454,395 1346,520 1323,573 1348,508 1394,372 1399,472 1345,557 1348,563 1438,425 1293,579 1320,573 1349,524 1318,588 1347,480 1303,593 1351,550 1456,416 1374,440 1362,453 1410,485 1396,474 1350,481 1279,590 1390,453 1301,578 1320,550 1310,574 1323,589 1359,529 1328,573 1344,518 1347,545 1410,466 1319,566 1272,598 1294,598 1344,528 1364,485 1299,597 1348,545 1411,433 1360,534 1415,428 1409,430 1269,606 1320,548 1372,521 1362,482 1320,550 1365,465 1320,554 1325,546 1323,583 1439,357 1315,550 1346,486 1439,349 1336,552 1352,557 1320,558 1450,358 1317,552 1441,401 1354,527 1344,559 1362,451 1391,426 1363,492 1439,416 1409,352 1290,584 1439,346 1390,399 1339,532 1428,414 1362,532 1361,500 1318,565 1325,579 1391,414 1345,521 1331,564 1350,543 1380,466 1396,433 1426,462 1395,410 1399,387 1272,606 1345,495 1323,543 1325,555 1352,539 1353,475 1379,473 1288,584 1319,550 1333,522 1362,549 1314,549 1344,501 1314,559 1393,455 1461,364 1324,549 1363,538 1320,556 1447,362 1400,442 1362,518 1412,452 1352,487 1394,497 1324,552 1301,572 1455,356 1364,496 1303,594 1345,527 1443,364 1362,489 1413,446 1441,400 1415,445 1364,544 1363,537 1353,543 1394,482 1292,586 1344,570 1393,509 1359,471 1410,443 1305,575 1363,508 1351,560 1417,439 1349,523 1351,485 1351,556 1462,505 1445,417 1359,498 1409,458 1269,598 1439,398 1401,424 1394,466 1385,501 1347,551 1322,548 1345,502 1350,555 1314,554 1344,537 1412,462 1390,502 1347,566 1310,576 1376,528 1416,435 1419,454 1400,460 1293,574 1438,436 1345,448 1365,488 1395,446 1390,418 1350,510 1338,556 1349,517 1349,518 1302,574 1420,413 1336,532 1438,358 1447,436 1346,567 1303,572 1334,508 1317,553 1402,366 1345,483 1409,430 1474,361 1272,596 1381,466 1350,507 1360,521 1347,519 1344,430 1358,496 1411,463 1370,501 1363,500 1421,421 1309,577 1371,427 1362,470 1395,433 1351,517 1348,514 1445,339 1353,531 1440,409 1333,583 1447,506 1349,528 1409,449 1349,542 1345,515 1359,466 1305,593 1362,456 1320,536 1311,567 1349,505 1336,563 1395,434 1317,593 1438,377 1439,362 1367,518 1354,501 1413,366 1371,524 1315,552 1400,466 1446,433 1283,591 1354,554 1367,476 1385,511 1447,418 1352,532 1440,403 1318,537 1346,540 1359,547 1440,423 1390,492 1363,431 1391,514 1438,405 1399,394 1358,513 1339,549 1412,449 1390,412 1401,451 1336,523 1394,479 1390,512 1384,512 1314,591 1354,550 1343,455 1411,457 1360,465 1308,588 1410,395 1321,584 1443,349 1353,490 1363,482 1321,563 1301,574 1441,419 1440,351 1393,487 1363,545 1394,503 1362,495 1340,549 1351,506 1322,536 1287,601 1362,513 1325,565 1390,408 1439,387 1390,433 1352,549 1331,555 1344,568 1338,545 1402,427 1365,437 1359,517 1391,432 1378,518 1395,462 1441,417 1374,417 1439,440 1361,509 1408,469 1440,442 1321,563 1343,473 1353,459 1356,503 1393,424 1325,542 1356,543 1324,575 1441,389 1324,552 1370,488 1377,502 1352,460 1372,473 1305,587 1394,505 1419,403 1410,397 1390,453 1334,530 1362,493 1409,438 1361,502 1336,567 1367,510 1401,492 1326,565 1486,384 1342,476 1438,381 1300,596 1343,489 1318,558 1299,579 1446,402 1419,415 1320,531 1391,503 1368,513 1396,442 1442,360 1338,550 1409,432 1372,525 1266,606 1419,467 1351,503 1444,425 1347,539 1411,453 1439,417 1336,538 1333,531 1363,546 1439,390 1347,553 1355,548 1365,513 1348,498 1350,553 1336,554 1439,451 1344,485 1326,567 1348,531 1441,387 1340,536 1444,405 1365,524 1344,508 1465,360 1439,428 1397,473 1322,541 1303,594 1456,368 1418,460 1390,342 1361,453 1394,451 1333,577 1346,497 1439,447 1365,457 1371,507 1330,565 1344,490 1314,583 1392,418 1356,506 1327,558 1301,573 1399,474 1449,435 1409,429 1401,500 1350,462 1366,541 1345,495 1339,527 1296,575 1444,421 1362,537 1314,582 1392,503 1402,415 1398,355 1376,501 1431,429 1295,599 1315,588 1358,535 1311,565 1407,458 1390,416 1325,549 1412,436 1361,494 1320,555 1414,415 1332,553 1398,457 1365,468 1359,541 1378,482 1352,518 1326,555 1391,383 1387,500 1355,469 1452,457 1348,512 1352,470 1344,490 1307,572 1471,371 1373,481 1350,482 1374,487 1293,580 1393,456 1314,589 1445,404 1439,417 1349,527 1353,520 1285,581 1352,545 1458,431 1414,435 1367,526 1459,464 1410,434 1438,350 1375,520 1349,514 1318,557 1421,477 1346,528 1393,489 1339,518 1362,536 1383,512 1350,568 1393,433 1356,521 1345,568 1398,449 1364,495 1441,423 1367,485 1342,475 1343,418 1412,467 1324,558 1403,439 1402,485 1371,546 1337,566 1370,507 1362,531 1332,560 1391,409 1362,554 1314,589 1357,491 1343,478 1292,598 1328,558 1379,478 1366,487 1367,503 1358,505 1455,366 1410,455 1486,346 1347,561 1319,580 1318,555 1364,546 1353,523 1393,357 1309,569 1440,394 1323,556 1466,386 1441,421 1403,472 1390,441 1374,509 1344,491 1324,582 1384,511 1334,531 1391,409 1363,526 1393,490 1392,494 1323,542 1321,583 1392,493 1350,573 1287,601 1344,520 1381,519 1333,580 1300,567 1439,438 1377,501 1403,454 1399,394 1399,500 1412,451 1347,540 1336,517 1468,370 1405,494 1344,558 1409,387 1400,433 1346,478 1334,517 1364,511 1376,518 1335,571 1346,493 1354,485 1459,368 1366,475 1327,570 1392,427 1401,458 1441,429 1392,409 1325,552 1390,428 1462,359 1440,339 1396,458 1351,532 1485,357 1366,482 1410,368 1363,535 1327,553 1366,503 1367,509 1327,547 1355,564 1439,357 1338,575 1344,563 1368,496 1409,455 1453,407 1400,441 1292,574 1308,571 1357,544 1402,465 1364,543 1365,486 1362,526 1397,432 1413,424 1356,516 1395,389 1353,513 1371,470 1438,395 1344,476 1373,516 1455,379 1403,464 1342,501 1345,482 1305,595 1361,468 1391,379 1439,443 1338,575 1338,555 1391,417 1373,529 1339,557 1381,434 1328,572 1342,570 1409,399 1270,606 1465,367 1392,420 1346,445 1370,527 1458,427 1350,516 1391,408 1345,489 1404,361 1348,551 1446,427 1400,480 1475,377 1334,514 1390,433 1344,504 1469,376 1399,472 1343,476 1371,479 1395,427 1421,408 1357,552 1395,392 1339,557 1395,427 1292,598 1383,511 1322,553 1307,574 1362,486 1281,603 1414,468 1366,467 1481,397 1364,504 1464,379 1401,453 1296,572 1374,488 1410,420 1393,452 1443,342 1357,472 1347,500 1344,565 1359,456 1336,567 1361,473 1322,580 1426,441 1410,456 1392,439 1408,453 1368,529 1348,414 1393,465 1394,475 1396,416 1361,541 1387,488 1439,451 1391,394 1476,372 1314,551 1363,440 1410,415 1359,512 1473,481 1376,476 1409,416 1376,509 1441,381 1343,471 1438,430 1373,520 1459,375 1375,528 1393,488 1375,500 1439,374 1453,352 1392,420 1336,547 1315,546 1441,341 1353,526 1462,387 1348,541 1349,511 1308,574 1287,585 1362,525 1360,338 1309,585 1416,378 1391,356 1438,472 1458,387 1352,550 1414,435 1304,574 1400,383 1367,491 1343,467 1409,454 1348,454 1303,573 1438,379 1446,443 1371,473 1306,573 1376,419 1367,438 1409,484 1347,489 1310,586 1402,425 1345,504 1442,366 1361,525 1366,461 1460,403 1326,539 1390,519 1393,462 1409,469 1358,509 1314,546 1372,457 1493,358 1376,505 1438,463 1297,567 1385,450 1326,536 1440,437 1270,595 1392,422 1358,516 1400,412 1310,571 1419,418 1356,541 1350,501 1422,389 1307,572 1352,519 1391,396 1408,443 1446,432 1484,344 1448,387 1392,491 1308,580 1362,533 1368,532 1351,495 1392,393 1409,397 1439,409 1349,559 1382,494 1373,518 1374,520 1368,507 1356,546 1391,431 1358,506 1448,406 1446,370 1394,493 1359,553 1409,411 1392,429 1447,398 1334,516 1466,390 1403,478 1371,493 1319,559 1409,466 1274,593 1336,547 1402,412 1339,571 1411,413 1368,512 1371,445 1452,386 1414,438 1390,404 1401,405 1350,494 1356,521 1444,354 1358,475 1395,483 1377,489 1345,517 1394,441 1315,551 1340,551 1320,546 1357,505 1384,515 1336,560 1394,463 1439,411 1314,553 1342,450 1369,532 1361,538 1326,566 1438,362 1384,471 1399,455 1377,462 1339,573 1390,343 1459,344 1494,353 1383,493 1355,533 1371,503 1358,480 1478,475 1320,580 1393,488 1346,475 1336,537 1408,467 1393,432 1345,560 1318,546 1366,548 1377,464 1357,549 1409,391 1332,550 1360,534 1398,490 1400,464 1445,344 1369,470 1374,476 1341,535 1353,569 1409,465 1487,361 1283,587 1397,340 1337,539 1333,517 1438,342 1439,384 1362,473 1350,563 1392,404 1391,441 1362,480 1308,588 1364,500 1365,427 1349,488 1449,408 1393,453 1350,512 1409,446 1343,455 1348,509 1439,370 1360,512 1448,386 1356,493 1363,555 1357,455 1346,489 1392,418 1425,455 1351,507 1326,568 1266,606 1441,420 1358,482 1365,406 1322,541 1335,508 1355,533 1372,483 1392,405 1360,441 1396,500 1342,477 1416,482 1392,347 1357,510 1401,469 1369,484 1404,440 1444,384 1365,487 1409,460 1355,491 1411,475 1370,493 1361,484 1348,490 1338,545 1442,414 1335,533 1375,507 1349,558 1475,388 1463,412 1406,480 1359,502 1301,568 1282,604 1366,524 1336,570 1340,561 1344,482 1370,488 1392,438 1409,470 1356,548 1283,586 1355,483 1445,414 1372,463 1370,511 1415,425 1439,458 1451,414 1352,460 1309,591 1305,570 1396,498 1468,370 1409,463 1379,467 1409,424 1396,475 1344,517 1315,548 1363,419 1353,533 1369,517 1533,516 1348,500 1392,470 1368,487 1372,489 1409,459 1392,386 1418,453 1460,387 1361,551 1353,495 1412,373 1508,360 1472,419 1448,351 1327,561 1299,597 1380,506 1440,339 1406,431 1446,341 1326,546 1413,421 1406,447 1352,495 1448,385 1276,591 1329,587 1373,366 1295,572 1447,391 1400,475 1358,494 1409,358 1356,508 1448,408 1405,484 1393,486 1403,475 1425,476 1446,445 1347,564 1305,576 1304,560 1365,535 1299,599 1362,472 1374,512 1330,559 1454,371 1403,459 1364,486 1414,388 1430,344 1344,409 1328,578 1442,391 1363,455 1369,510 1309,558 1355,501 1378,507 1390,341 1326,570 1353,556 1353,556 1397,510 1402,485 1438,354 1333,581 1385,405 1324,580 1347,517 1367,510 1378,506 1353,507 1415,462 1359,481 1399,449 1370,485 1457,405 1400,439 1353,476 1395,448 1392,480 1366,542 1358,494 1422,418 1409,409 1343,452 1365,431 1344,470 1476,367 1347,480 1346,488 1349,465 1355,498 1380,470 1329,550 1354,485 1443,407 1393,468 1336,522 1445,398 1369,498 1330,571 1394,413 1378,525 1446,359 1473,496 1363,462 1353,550 1327,559 1393,483 1357,542 1370,481 1351,511 1447,436 1368,509 1383,450 1376,466 1392,385 1303,595 1406,345 1452,483 1404,442 1412,447 1396,418 1318,560 1344,449 1366,498 1361,549 1366,490 1442,396 1333,521 1351,551 1328,559 1331,558 1314,536 1382,493 1415,375 1440,352 1391,362 1374,504 1440,444 1438,462 1398,423 1438,440 1420,421 1365,521 1308,581 1319,543 1448,426 1372,509 1376,457 1370,492 1357,532 1406,416 1345,446 1381,485 1393,414 1442,472 1409,458 1327,580 1390,393 1334,513 1308,593 1381,495 1345,572 1392,517 1365,473 1352,558 1347,508 1270,606 1344,453 1362,477 1326,573 1390,410 1485,336 1315,545 1375,503 1438,364 1337,526 1459,430 1350,485 1354,507 1398,377 1344,437 1462,377 1402,461 1359,486 1340,569 1297,570 1336,506 1390,381 1409,385 1382,483 1439,336 1441,417 1329,565 1323,545 1369,536 1392,478 1350,526 1362,463 1398,451 1402,425 1370,491 1507,348 1286,584 1391,519 1334,512 1398,470 1288,580 1372,472 1365,475 1410,456 1306,569 1451,409 1326,562 1350,451 1287,584 1420,396 1495,337 1359,537 1370,481 1366,500 1409,417 1411,415 1400,405 1464,421 1362,534 1457,347 1441,351 1321,585 1344,563 1345,460 1467,361 1442,433 1386,485 1416,441 1412,473 1362,539 1309,559 1368,482 1413,465 1439,392 1394,415 1445,396 1352,516 1442,433 1334,513 1359,482 1405,477 1370,489 1391,513 1334,513 1452,415 1454,365 1394,480 1457,400 1455,372 1488,359 1464,387 1368,528 1356,481 1395,449 1351,452 1400,476 1442,369 1369,493 1443,393 1410,465 1379,512 1390,399 1359,487 1390,396 1445,418 1451,385 1317,559 1320,543 1351,559 1343,430 1399,394 1406,345 1340,479 1445,410 1407,419 1369,499 1403,410 1375,463 1391,384 1442,414 1446,427 1498,459 1423,456 1466,336 1409,372 1440,430 1339,575 1365,485 1369,518 1402,375 1438,375 1331,557 1481,365 1340,550 1330,541 1366,488 1392,484 1332,555 1339,545 1386,505 1352,480 1357,550 1371,468 1362,449 1457,428 1381,522 1352,453 1457,374 1353,555 1414,432 1393,407 1416,377 1329,578 1391,402 1373,507 1442,451 1414,500 1439,352 1343,464 1314,555 1359,487 1439,470 1393,417 1339,542 1395,492 1374,425 1439,456 1301,566 1409,485 1366,467 1402,466 1443,404 1349,368 1443,411 1409,465 1394,509 1336,517 1444,349 1406,472 1397,484 1339,579 1388,435 1440,348 1364,425 1395,436 1354,483 1285,583 1403,463 1378,509 1407,408 1305,568 1410,414 1395,460 1351,508 1398,441 1386,460 1352,559 1360,404 1410,437 1383,484 1284,603 1448,338 1354,457 1366,534 1361,480 1351,440 1408,459 1411,408 1349,488 1410,386 1409,376 1372,406 1323,545 1366,444 1358,495 1367,445 1404,427 1374,463 1326,535 1398,480 1382,476 1319,548 1348,492 1404,475 1291,585 1439,392 1372,498 1398,472 1441,420 1354,513 1403,395 1439,365 1339,526 1314,593 1403,472 1403,459 1441,442 1372,471 1374,474 1478,388 1377,517 1489,357 1447,403 1486,386 1413,411 1382,347 1358,515 1390,422 1409,445 1414,447 1367,530 1451,362 1479,388 1443,436 1362,542 1366,539 1340,562 1407,419 1351,507 1362,462 1400,443 1396,494 1629,378 1442,375 1386,457 1324,539 1353,517 1345,482 1450,407 1490,372 1350,446 1455,498 1336,527 1338,507 1372,486 1366,496 1396,463 1451,516 1364,452 1343,444 1344,573 1381,418 1336,519 1400,476 1345,561 1449,412 1394,412 1370,517 1438,462 1391,513 1362,485 1444,385 1417,439 1396,488 1441,471 1349,484 1411,461 1367,519 1427,457 1399,490 1409,393 1358,538 1311,583 1319,550 1367,479 1406,478 1357,532 1365,507 1398,464 1363,458 1327,546 1327,579 1343,445 1394,448 1451,390 1368,484 1344,458 1285,585 1498,386 1363,451 1367,469 1368,410 1403,402 1462,405 1441,406 1365,505 1438,339 1415,407 1401,468 1357,520 1476,481 1374,508 1448,458 1372,515 1366,474 1358,541 1339,510 1441,429 1409,471 1351,483 1368,476 1347,565 1402,453 1441,407 1363,470 1443,346 1390,506 1369,456 1393,374 1326,542 1327,550 1344,464 1441,417 1362,556 1336,541 1349,495 1466,475 1455,464 1453,410 1345,436 1390,363 1397,496 1357,498 1309,584 1366,461 1353,503 1398,470 1371,466 1445,355 1355,506 1392,516 1421,408 1296,564 1398,349 1399,448 1362,485 1411,443 1405,473 1365,500 1390,513 1453,412 1443,415 1331,574 1392,446 1344,459 1371,530 1464,458 1315,545 1338,531 1396,462 1352,503 1465,343 1361,454 1390,386 1340,573 1345,475 1351,437 1391,404 1352,515 1353,486 1353,465 1356,525 1443,406 1355,488 1318,553 1374,501 1390,376 1409,447 1353,513 1277,586 1399,471 1343,460 1410,458 1357,524 1451,406 1375,433 1392,391 1394,460 1441,381 1372,493 1372,458 1356,503 1355,549 1409,405 1424,390" fill="none" stroke="none" marker-start="url(#m)" marker-mid="url(#m)" marker-end="url(#m)"/>
<path d="M1456.6 385.2C1458.4 385.3 1461.2 385.6 1467.8 385.8C1474.3 386.0 1486.5 386.6 1495.9 386.3C1505.2 386.1 1514.6 385.4 1523.9 384.4C1533.3 383.3 1542.7 381.8 1552.0 380.2C1561.4 378.5 1570.7 376.5 1580.1 374.5C1589.5 372.6 1600.1 370.2 1608.2 368.4C1616.2 366.5 1625.0 364.2 1628.4 363.3L1628.4 434.9C1625.0 433.7 1616.2 430.7 1608.2 427.9C1600.1 425.1 1589.5 421.1 1580.1 418.1C1570.7 415.0 1561.4 412.4 1552.0 409.6C1542.7 406.8 1533.3 403.9 1523.9 401.2C1514.6 398.5 1505.2 395.7 1495.9 393.6C1486.5 391.6 1474.3 389.9 1467.8 388.9C1461.2 387.8 1458.4 387.7 1456.6 387.5Z" fill="#99a09c" fill-opacity=".22"/>
<path d="M1267.1 607.6C1270.1 605.8 1279.9 600.2 1285.3 596.9C1290.7 593.6 1295.1 591.0 1299.3 587.9C1303.6 584.8 1306.8 582.3 1310.6 578.1C1314.3 573.9 1318.1 568.3 1321.8 562.6C1325.6 557.0 1329.8 549.3 1333.0 544.4C1336.3 539.5 1337.7 537.1 1341.5 533.2C1345.2 529.2 1351.8 524.3 1355.5 520.5C1359.2 516.8 1361.1 514.7 1363.9 510.7C1366.7 506.7 1369.1 502.5 1372.3 496.7C1375.6 490.8 1379.8 482.6 1383.6 475.6C1387.3 468.6 1391.1 460.6 1394.8 454.6C1398.5 448.5 1402.3 444.5 1406.0 439.1C1409.8 433.7 1413.5 427.9 1417.3 422.3C1421.0 416.7 1425.2 410.1 1428.5 405.4C1431.8 400.7 1434.6 396.8 1436.9 394.2C1439.3 391.6 1440.7 391.1 1442.5 390.0C1444.4 388.9 1445.8 388.1 1448.1 387.5C1450.5 386.9 1453.3 386.4 1456.6 386.3C1459.8 386.3 1461.2 386.6 1467.8 387.2C1474.3 387.7 1486.5 388.9 1495.9 389.7C1505.2 390.5 1514.6 391.5 1523.9 392.2C1533.3 393.0 1542.7 393.5 1552.0 394.2C1561.4 394.9 1570.7 395.5 1580.1 396.2C1589.5 396.8 1600.1 397.6 1608.2 398.1C1616.2 398.6 1625.0 399.1 1628.4 399.3" fill="none" stroke="#2AA198" stroke-width="5.3" stroke-linejoin="round"/>
</g>
<text class="st" x="1495.5" y="259.0">Very Good</text>
</g>
<g class="panel">
<rect x="194.0" y="649.0" width="504.7" height="67.9" fill="#213f48"/>
<rect x="194.0" y="716.9" width="504.7" height="346.9" fill="#133540"/>
<g clip-path="url(#c3)">
<path d="M245.6 716.9V1063.8M340.9 716.9V1063.8M436.3 716.9V1063.8M531.7 716.9V1063.8M627.1 716.9V1063.8M194.0 1009.5H698.7M194.0 936.5H698.7M194.0 863.6H698.7M194.0 790.6H698.7M194.0 717.6H698.7" stroke="#002B36" stroke-width="1.9" fill="none"/>
<path d="M197.9 716.9V1063.8M293.2 716.9V1063.8M388.6 716.9V1063.8M484.0 716.9V1063.8M579.4 716.9V1063.8M674.8 716.9V1063.8M194.0 1046.0H698.7M194.0 973.0H698.7M194.0 900.0H698.7M194.0 827.1H698.7M194.0 754.1H698.7" stroke="#002B36" stroke-width="3.8" fill="none"/>
<polyline points="231,1030 285,1003 313,920 265,1007 350,852 238,1030 237,1033 296,952 248,1008 297,967 230,1037 228,1028 268,985 222,1040 365,914 342,820 313,969 339,946 227,1037 266,1003 222,1039 228,1038 349,862 361,847 227,1030 226,1038 236,1033 247,1027 315,943 265,1017 247,1029 342,900 226,1038 341,973 294,989 359,936 268,1002 343,808 301,969 275,1003 390,792 413,850 237,1036 232,1030 249,1025 229,1036 313,995 368,883 411,778 334,938 229,1029 341,926 266,1016 304,944 244,1022 265,1017 233,1031 249,1013 236,1035 314,939 353,836 341,922 350,791 314,980 265,1016 240,1029 316,968 293,969 224,1034 305,973 311,963 369,821 228,1034 252,1013 298,955 341,942 391,830 299,967 226,1034 294,991 302,963 308,938 312,944 253,1028 304,956 301,982 283,994 235,1036 222,1040 280,994 293,976 294,986 322,969 255,1020 228,1036 358,893 294,977 294,988 229,1031 295,1007 247,1024 232,1035 341,830 295,950 341,957 313,935 255,1025 295,984 396,888 257,1014 343,969 220,1040 229,1034 238,1031 312,956 247,1027 343,849 407,782 293,961 341,958 304,982 396,806 351,871 242,1030 249,1015 236,1034 238,1027 271,1001 321,953 312,970 323,927 342,884 389,805 238,1027 359,883 295,935 343,856 400,783 237,1033 293,986 248,1024 319,981 326,963 265,992 342,852 389,894 231,1036 265,1007 277,1004 310,933 287,976 271,1003 313,986 296,948 284,983 267,1010 305,963 236,1026 342,928 284,993 345,897 276,994 310,964 283,979 342,920 296,975 316,954 286,986 411,806 296,962 247,1018 274,1003 237,1032 341,897 299,969 237,1015 228,1033 239,1034 360,899 294,952 273,997 341,907 309,953 246,1015 390,845 267,1011 235,1031 312,952 344,888 249,1026 341,894 295,981 228,1034 312,956 361,916 284,957 311,936 228,1033 342,911 265,1005 284,1001 320,927 353,854 239,1021 370,835 348,865 223,1039 294,995 298,956 346,874 298,943 296,978 344,881 337,967 272,1011 242,1029 265,1014 293,948 266,1002 253,1021 231,1037 332,984 318,846 345,895 230,1038 228,1028 229,1030 301,979 271,999 232,1034 285,1000 226,1039 389,854 320,961 237,1036 262,1017 245,1024 402,801 250,1017 220,1040 265,1012 300,937 294,987 294,980 343,933 343,877 355,935 305,925 359,875 256,1022 274,1013 318,981 324,922 345,917 297,971 314,936 285,967 312,899 304,964 241,1027 264,1003 244,1027 286,935 293,1000 314,955 265,1017 227,1031 266,1017 294,1007 312,952 251,1027 319,922 251,1023 284,984 313,927 360,911 314,929 398,848 268,1000 312,940 341,883 270,1000 232,1035 239,1027 283,975 271,990 429,895 345,886 312,955 341,962 297,981 294,980 293,943 281,1012 342,895 306,963 318,936 302,988 320,915 295,974 271,1005 271,1007 318,946 296,969 248,1024 318,976 227,1029 388,814 228,1039 293,947 235,1031 247,1019 389,866 265,998 308,959 293,989 294,984 249,1027 228,1039 284,981 392,880 390,918 295,966 293,953 268,1010 294,985 294,979 366,924 300,979 287,984 330,890 418,869 311,926 353,882 390,884 238,1034 247,1013 312,966 341,894 294,971 271,995 277,1007 255,1018 222,1038 227,1040 390,893 341,910 300,978 312,933 319,863 331,958 532,775 295,908 342,859 312,987 313,952 267,996 441,789 253,1024 295,955 254,1025 360,849 284,986 294,980 265,1006 294,989 264,1008 250,1018 264,997 312,941 251,1023 242,1031 237,1020 357,910 250,1030 320,970 300,970 268,1017 284,989 284,1005 270,981 312,943 295,992 393,854 306,928 307,950 294,1014 294,948 265,1008 314,966 284,997 390,872 342,888 342,888 394,847 343,941 248,1021 238,1026 265,1021 270,1011 265,983 364,813 273,996 341,943 312,971 236,1028 238,1022 342,888 322,928 309,969 227,1030 298,928 236,1038 407,857 313,864 393,884 341,921 257,1021 388,857 293,979 294,1003 341,899 240,1031 341,922 308,969 257,1020 273,1017 350,918 336,926 251,1029 272,1009 245,1027 249,1012 342,884 360,916 253,1028 293,960 307,923 296,1000 295,975 233,1035 344,843 307,944 342,946 406,832 236,1027 386,860 295,914 300,947 313,964 284,1013 274,1003 247,1019 295,965 304,982 298,957 304,975 294,928 315,984 342,926 273,1006 288,997 227,1024 297,958 245,1021 312,949 361,836 315,920 303,991 252,1009 414,792 294,937 354,919 285,967 361,909 269,1006 336,952 314,948 256,1013 309,950 294,939 410,797 318,1004 293,971 255,1015 342,908 390,843 270,1014 407,852 404,816 264,997 284,991 279,965 309,983 342,930 257,1024 224,1036 313,959 253,1018 250,1023 293,959 307,967 266,979 257,1011 317,930 294,951 255,1014 365,894 322,979 299,949 260,1010 446,926 253,1018 248,1022 294,942 313,932 300,930 304,994 342,910 427,779 284,1009 254,1023 277,1012 368,897 273,1011 417,835 265,990 342,828 265,994 250,1021 285,956 397,834 302,979 250,1001 307,984 293,959 269,1015 233,1017 342,911 293,963 316,913 347,889 316,970 277,1016 284,1008 258,1000 284,993 269,1016 309,992 283,998 251,1030 294,949 318,916 352,908 349,917 246,1026 221,1037 255,1018 294,954 305,906 301,984 347,901 266,1022 305,956 342,927 266,995 295,982 246,1021 313,916 465,831 345,888 398,790 306,952 285,1003 308,978 326,857 275,1002 250,1019 288,1005 343,943 341,970 287,979 295,982 271,997 270,999 293,964 304,888 296,965 312,891 300,921 400,851 266,1026 312,933 277,999 312,965 302,972 341,954 236,1026 275,1011 294,959 254,1011 269,984 294,948 266,1020 389,854 389,858 323,950 341,843 288,1007 299,917 223,1037 342,864 294,924 298,943 300,969 303,982 317,947 286,982 245,1030 299,961 341,890 228,1028 298,892 405,845 301,922 263,1008 293,963 314,947 343,860 306,981 341,888 309,949 297,977 239,1026 345,834 306,992 246,1024 249,1022 439,803 297,980 232,1027 223,1038 310,969 293,914 341,914 315,938 294,923 245,1009 269,1010 284,986 367,833 341,951 306,961 267,1009 360,874 406,830 247,1015 266,973 255,1008 305,946 342,874 306,942 306,962 270,1009 294,928 355,863 347,891 370,825 363,884 407,792 413,817 312,911 245,1026 345,882 293,975 368,820 349,891 342,829 294,999 352,922 274,1012 342,875 287,991 295,884 364,866 293,976 352,835 362,819 293,956 299,940 341,928 317,927 307,1002 237,1025 341,876 269,1004 286,1003 321,945 302,969 322,942 298,974 353,885 320,960 344,916 445,964 377,921 253,1025 300,925 327,944 306,960 341,914 299,931 353,891 295,854 341,885 284,988 239,1035 392,860 277,1008 268,1012 345,909 264,1002 270,1014 252,1029 356,892 389,838 295,960 388,907 352,903 221,1036 336,888 344,938 342,850 346,909 295,943 313,959 351,873 306,973 411,867 284,971 399,830 394,888 363,899 316,864 245,1017 304,972 287,991 293,965 248,1030 312,855 321,935 284,984 312,922 260,1021 293,878 293,933 261,1007 348,885 307,947 311,963 323,946 342,842 284,980 328,888 344,901 407,794 293,990 307,910 284,982 324,982 259,1027 390,825 341,853 313,909 354,886 299,973 408,812 235,1022 343,881 304,965 293,992 348,872 365,899 295,965 294,952 293,944 399,810 283,977 316,955 360,879 346,926 328,969 312,910 404,860 344,885 293,971 344,867 390,877 294,963 351,883 304,950 341,802 287,991 267,990 307,973 293,957 269,1023 294,968 307,991 390,909 277,1000 274,1005 294,996 319,944 312,988 370,893 397,865 343,816 312,957 266,992 352,940 308,929 342,892 344,869 355,880 327,892 341,943 359,934 333,927 390,830 345,921 342,800 293,933 297,939 341,902 341,914 296,974 395,877 323,892 284,1012 312,952 292,986 293,942 298,982 360,815 302,993 302,971 342,932 393,871 268,1011 293,973 299,966 298,959 323,908 345,784 297,928 300,957 326,884 294,933 341,893 399,864 252,1009 302,992 284,987 301,995 293,966 360,891 320,905 390,862 390,843 343,979 284,1009 272,979 308,933 313,936 341,838 395,849 302,937 268,997 337,859 284,1006 347,935 312,985 314,968 305,979 349,881 305,944 305,957 320,911 304,949 342,899 312,978 248,1015 293,995 346,937 294,1002 266,1002 390,795 302,982 298,986 341,819 342,899 348,884 328,965 347,893 285,996 274,1010 307,933 304,985 293,933 246,1018 313,977 314,896 267,1008 316,974 294,993 276,996 237,1035 343,948 301,905 451,773 373,863 394,853 224,1033 267,983 308,963 284,991 248,1017 304,926 328,994 294,890 449,838 272,996 410,851 331,956 341,923 260,1014 293,948 341,919 308,984 224,1033 252,1033 316,959 293,921 259,1016 392,800 359,838 344,846 284,1001 410,828 341,918 276,986 360,908 296,921 246,1019 294,947 414,850 349,910 315,955 259,1017 389,873 408,784 294,913 394,813 306,922 313,979 287,970 352,842 297,951 297,906 285,990 290,993 242,1028 313,888 309,971 294,999 293,902 295,957 237,1025 252,1013 390,849 303,944 314,998 271,994 250,1020 322,947 360,894 313,872 342,880 346,908 280,1003 295,993 408,827 343,928 344,872 394,831 353,896 297,983 276,1006 351,880 293,996 390,894 316,954 352,902 271,998 360,864 328,850 298,949 227,1026 278,1004 351,885 314,926 269,1003 341,898 392,898 293,890 287,988 234,1025 398,890 227,1028 434,802 342,865 304,971 314,851 307,942 323,942 313,903 309,959 360,911 300,946 298,986 343,848 303,989 345,913 293,982 314,962 341,940 402,792 314,978 347,856 296,940 308,964 294,967 351,855 341,966 344,860 341,943 360,921 361,899 242,1032 358,942 322,934 286,977 421,952 316,868 294,931 254,1029 294,947 269,1000 370,870 296,999 374,898 392,798 342,894 307,940 308,974 316,919 389,817 268,1021 241,1023 315,962 315,941 297,938 352,935 364,803 330,927 314,943 398,773 316,880 305,921 300,928 312,973 313,886 298,988 269,1005 304,924 312,991 351,858 341,917 341,935 294,939 342,879 400,854 271,1005 324,972 299,958 345,884 294,955 363,937 297,986 270,1027 293,922 299,1003 314,929 285,976 367,911 389,808 268,997 317,990 252,999 316,940 267,1022 324,934 294,920 233,1026 361,857 402,789 398,880 307,983 390,906 429,826 286,1002 321,933 303,975 293,996 284,974 300,905 272,1016 248,1030 354,839 234,1026 245,1014 443,788 309,941 314,925 353,858 284,1010 278,997 303,942 255,1016 251,1010 306,928 367,874 300,994 394,857 314,975 343,948 278,996 343,939 402,864 345,896 327,954 391,870 322,950 269,1002 344,938 315,921 343,940 302,835 268,993 372,890 293,936 342,917 303,941 248,1029 314,929 252,1017 294,945 364,875 389,870 352,910 325,916 322,867 412,881 351,886 289,974 343,957 360,861 247,1014 325,931 299,974 392,886 275,993 251,1005 298,960 318,968 404,836 312,945 293,988 268,991 342,802 315,981 306,935 256,1028 350,879 276,977 296,1002 294,1003 294,992 360,876 309,904 275,1016 367,883 268,1013 300,1003 308,958 292,953 245,1018 266,990 391,912 267,1022 321,948 342,914 302,971 308,971 346,883 294,993 296,889 362,843 316,862 319,939 299,970 363,903 362,912 314,966 328,913 337,930 341,905 327,943 309,979 259,1014 290,971 306,992 420,913 300,962 303,956 360,876 285,959 340,975 233,1025 293,963 298,923 306,952 303,927 340,895 317,981 354,850 323,916 392,834 373,823 293,974 341,917 398,802 368,887 255,1008 342,855 389,868 242,1020 406,877 342,953 343,950 350,950 393,888 295,941 316,889 274,1018 332,944 389,835 390,820 341,841 295,992 299,984 273,991 265,982 389,821 343,935 341,903 397,844 280,1011 267,990 343,914 312,952 314,961 296,916 301,975 317,931 299,946 286,974 437,779 345,940 312,922 302,954 300,924 342,902 361,820 297,965 319,976 262,1007 312,962 341,857 390,890 233,1027 300,990 344,972 252,1026 324,919 300,922 437,839 401,864 302,947 309,954 301,966 343,953 342,905 342,906 361,862 294,913 323,937 320,923 319,936 271,986 389,889 327,940 301,954 388,825 342,959 317,934 321,933 360,871 272,1006 316,945 341,869 347,948 397,833 317,908 393,827 312,938 274,980 274,988 347,871 319,933 361,921 293,954 416,776 341,870 391,797 389,819 313,907 284,1008 390,892 256,1004 360,876 360,887 273,1002 389,851 270,1002 320,914 406,822 342,845 389,795 426,798 390,913 301,970 341,869 254,1012 265,988 363,863 300,806 352,881 303,935 341,906 365,870 312,917 342,814 293,934 289,969 272,1013 288,990 242,1023 398,942 351,924 318,943 298,900 363,885 361,867 295,916 317,936 410,812 391,870 261,1005 308,943 342,918 302,995 299,961 306,976 366,775 315,933 345,849 342,964 342,941 322,911 300,949 362,805 360,916 236,1039 341,847 294,917 392,863 416,809 350,911 361,858 354,953 315,872 341,851 315,985 293,984 408,846 317,958 278,1015 398,848 343,856 343,955 344,889 287,987 302,947 273,1012 295,997 364,851 342,925 350,821 349,886 324,944 312,876 343,886 310,949 348,841 296,969 315,891 485,929 390,850 343,909 346,937 344,956 369,884 437,776 389,791 313,900 301,985 321,996 341,939 328,851 284,969 350,918 394,816 314,914 304,989 320,954 396,878 236,1038 302,965 305,849 350,960 360,858 347,959 361,902 254,1015 351,865 304,922 298,976 300,985 254,1016 275,1016 315,970 293,969 392,860 272,1021 304,962 306,927 390,800 313,805 303,887 351,805 306,927 301,938 313,992 360,864 314,837 298,935 317,949 406,788 328,933 284,971 255,1016 323,917 360,830 390,871 249,1012 316,939 272,1018 390,832 294,934 299,988 360,889 350,939 342,901 341,907 390,887 359,881 344,878 306,979 426,919 360,851 295,1004 293,950 419,798 275,1001 306,893 377,898 361,880 318,957 313,915 507,866 286,996 321,958 284,964 390,851 277,994 341,966 300,924 299,929 310,958 322,929 341,881 341,870 353,894 390,845 363,894 298,944 284,958 319,850 350,847 296,992 297,947 302,975 359,883 417,812 290,989 245,1011 352,945 342,865 266,982 341,938 314,881 276,995 302,958 351,844 289,1002 304,970 308,963 390,895 227,1027 252,1029 260,1017 325,892 347,857 294,999 389,898 279,986 425,818 297,885 350,907 361,854 323,945 234,1039 270,1021 323,940 361,914 303,912 267,997 389,831 391,852 347,939 350,924 411,846 310,927 303,949 315,946 314,922 351,871 326,829 367,904 298,965 313,974 342,928 287,1007 391,838 243,1032 414,797 242,1024 347,863 343,910 313,904 323,955 306,965 217,1040 305,917 418,890 251,1006 309,918 392,862 324,931 342,889 314,901 390,879 389,822 306,950 307,968 391,921 302,1003 326,939 317,913 345,873 353,857 352,871 360,870 342,931 317,921 485,773 350,920 273,996 246,1031 246,1032 360,954 306,921 311,969 321,925 287,995 392,801 317,868 354,875 321,946 342,935 284,1013 305,985 349,949 417,775 304,986 318,878 390,829 389,859 391,836 349,834 344,821 301,942 317,983 391,823 294,929 341,879 396,839 391,846 344,909 315,973 300,998 293,937 307,945 314,930 324,935 344,926 390,876 415,823 343,917 296,936 391,794 267,1018 364,918 249,997 393,845 352,915 341,860 287,1005 250,1008 318,953 300,940 349,791 345,868 300,936 389,877 390,884 341,804 322,915 273,982 366,928 293,879 312,906 390,890 351,903 294,955 310,917 347,927 360,893 319,914 282,982 315,921 309,910 390,824 360,861 312,962 303,953 369,906 304,946 313,911 294,909 279,1005 253,1007 351,885 290,968 344,865 293,974 258,1026 312,945 345,943 390,872 309,938 368,894 309,953 293,982 304,971 343,890 391,826 390,847 396,864 360,861 263,1024 390,866 351,862 358,815 327,962 312,948 316,928 275,990 309,952 354,799 316,991 294,909 314,900 325,904 390,865 382,891 360,841 285,976 414,807 424,865 323,934 344,924 259,1023 407,773 360,912 343,842 396,842 390,774 342,825 320,975 402,944 343,785 341,938 295,834 310,957 390,797 402,811 301,953 346,931 342,875 312,946 320,917 247,1004 313,950 293,891 325,930 341,947 368,830 350,947 325,909 297,989 286,995 324,884 246,1033 357,934 389,852 397,863 294,1001 327,945 392,871 330,972 277,990 256,1019 331,965 341,815 233,1029 302,929 349,940 321,897 352,898 398,831 324,911 300,975 239,1017 390,966 342,880 421,795 323,876 331,942 360,846 255,1030 379,909 299,954 359,819 249,1008 237,1022 394,809 287,982 375,777 290,997 367,908 323,902 402,801 407,783 390,808 394,837 342,930 293,923 341,956 293,920 304,934 350,841 266,986 361,820 362,895 294,917 395,927 304,972 321,925 342,952 350,955 276,1012 347,898 358,874 351,915 341,833 389,803 299,919 293,999 405,870 389,866 286,1007 344,867 364,837 390,775 262,1011 347,912 312,939 265,1025 303,969 308,979 346,861 293,928 366,910 277,997 317,942 326,909 360,885 341,947 366,861 244,1033 346,813 343,827 360,884 304,946 287,980 320,950 392,787 285,998 369,798 380,904 264,986 390,876 276,982 397,875 366,818 306,933 317,934 317,879 366,823 409,846 347,865 332,968 344,811 270,984 391,866 305,991 318,924 432,789 280,996 324,945 417,795 316,922 428,806 361,900 357,926 307,936 391,849 293,937 342,854 281,988 318,908 360,869 259,1013 274,998 303,951 316,909 320,952 294,941 323,874 363,850 307,948 241,1026 303,998 289,960 302,921 331,839 272,1014 294,895 432,824 302,977 390,819 347,904 271,1019 326,934 309,935 401,821 390,835 391,836 342,843 298,899 313,907 303,924 267,987 310,979 254,1009 396,888 341,877 278,1000 402,838 252,1016 286,989 393,787 306,981 335,951 318,931 308,930 343,931 431,936 352,913 348,884 316,973 256,1020 284,955 319,959 283,973 358,914 299,937 315,922 376,834 365,824 415,820 294,902 391,881 298,853 280,1000 245,1009 389,813 390,774 311,925 372,927 325,921 361,840 284,945 336,915 352,890 293,944 293,941 353,901 360,920 310,979 441,783 221,1034 296,884 344,867 331,854 301,959 231,1039 342,861 277,1017 353,922 307,938 365,892 371,859 389,798 392,839 318,961 438,798 356,818 335,905 314,981 390,847 299,977 247,1004 331,917 321,942 392,791 286,1007 312,899 267,1020 390,886 318,891 285,985 295,881 312,863 309,881 339,946 329,920 344,828 316,914 229,1025 341,877 333,929 391,864 421,839 318,935 261,1015 309,899 302,962 350,868 324,887 322,937 277,985 248,1011 313,988 343,926 306,919 341,853 259,1005 437,815 367,866 409,823 282,977 343,854 313,906 438,795 297,936 360,849 294,930 342,962 358,913 345,786 316,945 343,835 347,908 394,783 389,881 264,1026 311,983 401,868 305,991 293,890 272,983 360,830 265,987 314,913 389,779 297,903 348,871 341,789 347,929 345,878 312,888 294,920 397,812 360,877 301,949 313,992 320,987 295,925 286,967 260,1007 345,863 435,772 289,986 306,784 335,910 330,972 305,942 324,904 389,834 360,899 317,952 287,978 326,979 313,887 304,996 360,860 302,942 303,988 389,829 413,828 355,897 307,986 391,875 293,924 341,855 319,917 328,918 393,780 284,961 409,863 312,919 305,999 350,870 359,811 360,898 324,864 395,844 353,899 389,847 342,855 398,818 368,845 341,813 348,849 316,945 293,903 305,966 274,1007 399,829 315,967 264,1015 307,960 279,978 361,939 265,1023 299,1002 313,826 294,926 352,864 372,901 262,1028 303,952 299,874 258,1020 323,970 395,842 397,847 348,917 222,1034 346,958 301,933 418,830 344,892 388,861 321,929 315,981 361,894 365,857 369,889 349,914 370,894 365,882 352,914 343,952 304,968 256,1006 294,997 286,997 290,953 301,961 345,920 343,958 269,985 301,976 355,925 295,1009 410,841 316,943 390,858 322,961 245,1032 348,832 341,949 389,808 341,863 360,908 272,1027 394,857 390,830 256,1028 395,803 279,991 293,909 290,989 294,1003 412,813 341,907 417,805 393,819 316,890 363,845 391,859 352,885 391,787 297,963 347,866 341,873 354,925 320,880 353,855 352,922 353,889 334,914 404,782 319,929 256,1026 352,881 321,917 293,915 426,790 318,967 389,885 309,927 301,994 345,871 409,875 323,963 396,866 272,990 319,957 360,890 303,963 270,1018 360,882 300,919 296,924 347,893 288,968 273,1022 343,942 312,875 310,972 345,904 322,935 323,969 343,922 390,872 241,1019 347,900 318,921 298,995 321,935 369,830 347,871 334,952 242,1024 344,976 305,904 349,857 307,1004 289,976 390,859 265,981 341,835 404,807 355,875 389,804 355,895 315,966 261,1014 396,795 286,961 376,914 312,909 393,811 359,854 342,966 299,913 404,875 268,993 225,1032 348,899 299,951 393,856 303,941 429,795 390,858 318,940 298,1000 339,914 317,933 293,933 390,867 285,966 317,861 391,872 232,1022 395,893 338,923 348,952 275,991 389,790 289,998 327,917 317,899 454,778 341,928 350,892 347,890 395,842 343,835 446,887 346,876 400,785 325,940 341,828 366,773 248,1006 326,922 367,886 346,922 342,872 356,936 310,945 352,850 341,864 309,941 352,892 298,938 290,990 407,781 294,894 379,890 242,1020 320,951 317,931 395,830 328,960 330,910 415,811 319,942 300,993 312,936 294,921 261,1020 319,954 341,961 389,883 236,1020 342,933 317,904 258,1011 396,894 416,821 316,965 338,968 390,812 350,910 303,921 296,889 330,930 316,876 312,877 251,1007 434,795 283,965 388,905 327,962 260,1009 346,824 412,806 436,792 217,1040 284,1017 431,784 297,777 360,894 312,976 315,965 341,839 392,837 342,857 347,915 335,877 415,825 300,926 346,934 269,970 328,942 341,823 397,786 311,961 272,985 303,933 297,919 310,971 294,786 360,860 424,935 325,851 298,1008 238,1017 313,985 391,899 289,978 363,831 363,905 391,835 389,804 407,813 365,924 304,990 241,1036 360,834 259,1020 321,904 465,897 351,892 367,861 391,887 292,1007 344,904 290,944 390,834 358,897 253,1000 312,973 392,888 342,851 322,913 395,856 364,901 350,899 353,866 348,925 394,893 399,834 363,778 315,906 323,920 389,863 326,877 342,800 342,928 346,957 337,852 342,840 254,1006 348,950 360,886 397,819 350,890 329,895 343,850 314,913 311,947 389,839 363,826 353,863 297,909 295,905 353,903 242,1033 399,829 288,974 342,814 286,1011 318,892 295,901 364,863 364,890 343,892 311,957 345,849 352,808 298,930 306,917 326,914 360,905 346,894 330,950 305,933 416,804 312,892 332,935 338,942 354,812 341,861 303,932 271,986 360,784 342,796 246,1032 270,1017 400,879 309,912 325,906 307,1001 326,909 327,940 342,945 580,824 417,780 389,827 321,946 389,869 363,853 348,869 348,934 305,914 388,798 389,874 370,796 357,911 322,885 269,993 336,785 280,1012 306,937 361,843 360,930 321,928 315,961 403,827 359,880 325,953 394,813 327,914 344,862 443,929 298,917 426,912 324,901 358,819 442,781 293,926 351,887 323,933 306,1006 310,961 388,880 363,919 296,902 313,845 277,1009 413,812 343,945 348,941 394,808 322,953 360,905 327,927 347,909 329,949 342,790 341,960 306,987 310,894 311,977 281,994 333,899 397,819 312,827 318,928 306,900 370,911 360,872 293,935 348,915 390,839 325,900 342,983 362,829 237,1017 347,921 407,814 304,959 328,934 351,871 363,772 360,802 266,1026 293,916 365,886 323,874 348,901 440,773 291,984 313,884 351,908 310,981 440,797 364,915 322,920 462,846 440,782 372,896 361,926 364,885 375,839 271,1025 242,1017 320,893 332,885 403,810 371,887 342,862 347,899 324,997 342,814 335,889 342,945 316,976 321,924 395,881 389,882 346,879 360,926 371,771 241,1032 360,888 372,893 353,961 351,869 346,883 228,1026 394,861 362,806 342,787 341,799 418,862 269,980 308,917 331,930 325,959 388,783 354,859 402,854 343,833 357,907 350,947 419,778 395,801 394,843 309,1000 302,940 327,928 294,825 323,958 274,1018 346,900 337,915 287,974 305,958 389,775 351,898 389,900 370,853 346,914 305,953 362,829 360,906 270,992 300,952 391,925 402,788 341,846 403,848 320,950 365,854 262,1002 393,789 350,937 290,984 390,905 286,980 389,880 274,981 289,975 299,990 389,846 309,915 403,823 342,978 347,913 293,888 361,871 329,908 331,851 282,995 341,935 293,929 377,859 369,851 286,999 393,797 322,971 355,902 329,847 333,896 296,909 342,865 348,900 415,811 444,786 366,889 318,942 361,867 304,931 410,838 341,837 354,891 323,911 307,936 485,812 343,847 356,902 364,839 361,844 360,794 310,944 459,798 303,916 350,897 346,922 405,821 357,854 392,912 346,799 297,991 394,792 249,1009 342,958 419,806 234,1038 266,980 293,901 336,893 395,862 319,925 388,811 311,958 346,933 390,842 278,1009 357,923 364,847 346,805 409,791 343,935 427,831 356,820 310,910 314,907 279,979 355,808 349,945 439,886 350,896 353,911 390,897 300,1004 311,900 342,830 393,875 372,920 404,829 355,919 351,808 278,1010 300,910 354,887 259,1001 353,903 332,902 366,904 293,1010 302,927 391,793 346,944 366,884 390,901 316,969 383,925 411,791 347,861 436,798 303,997 336,961 367,899 313,859 412,844 331,914 259,1028 267,995 325,906 342,903 257,1007 311,958 316,958 306,954 349,818 416,855 405,820 316,961 362,905 342,839 360,874 329,912 355,885 318,986 318,895 351,928 254,1005 313,870 389,781 343,876 313,993 286,968 428,783 396,838 318,984 325,969 356,880 405,811 328,916 323,983 299,916 350,825 294,911 351,877 452,773 293,927 262,1006 439,832 390,964 319,997 355,852 317,898 308,987 362,913 324,939 263,1008 350,856 222,1032 246,1001 363,914 391,842 365,930 391,834 342,968 329,942 344,923 389,775 321,959 300,935 219,1039 257,1009 308,947 364,883 396,853 306,939 360,891 301,941 355,919 441,861 348,877 342,830 322,893 390,844 350,892 324,900 289,991 326,994 246,1012 353,831 415,815 341,843 245,1004 391,854 341,854 289,995 356,921 369,831 309,978 391,874 342,810 289,954 402,832 342,862 317,948 276,986 389,792 295,1005 342,951 398,839 356,923 394,869 294,927 352,913 391,806 317,950 419,856 321,965 374,912 425,801 393,806 394,794 347,905 349,809 427,848 378,792 367,872 401,953 320,948 347,932 341,977 399,774 390,801 311,973 234,1020 307,923 389,908 360,895 325,914 361,905 286,983 343,830 391,803 403,862 356,927 396,830 324,958 352,915 341,812 347,844 252,1004 361,901 348,954 333,947 246,1033 310,934 390,824 393,873 361,923 423,825 229,1025 225,1031 362,842 308,935 316,903 303,934 348,844 362,880 362,813 343,959 305,993 309,898 406,830 346,944 354,871 311,987 341,845 424,934 323,997 325,969 285,997 423,865 548,810 392,810 416,826 354,858 394,838 312,882 423,786 311,974 284,1015 399,943 405,861 344,940 370,871 366,922 286,1001 341,827 327,905 349,865 227,1026 365,831 308,912 407,860 342,838 349,913 484,776 360,878 327,961 276,1012 327,891 323,912 389,813 342,848 264,977 408,801 311,930 390,915 391,800 391,785 341,789 316,910 354,860 327,910 346,928 360,945 353,807 457,819 314,984 279,1002 390,829 360,932 360,888 350,858 289,1013 300,1004 330,920 351,787 355,847 420,869 322,921 393,848 312,897 303,933 322,951 392,825 312,896 360,867 346,885 398,885 267,1027 332,892 363,849 308,975 347,915 400,893 333,943 356,896 393,873 402,882 365,866 337,950 305,918 300,912 395,956 322,886 346,855 402,873 348,842 485,856 364,834 260,1024 404,856 297,888 389,785 283,1015 391,792 371,839 363,887 344,831 326,973 338,866 322,859 311,923 319,969 392,894 320,919 301,877 407,963 353,906 362,879 268,990 335,934 363,888 296,897 389,780 355,911 360,922 394,927 390,794 342,948 332,996 252,1002 398,843 245,1011 321,971 318,978 324,972 312,997 399,864 390,774 338,925 394,795 348,867 404,811 351,910 343,946 296,860 416,810 439,774 355,871 436,867 351,873 407,827 342,824 302,900 363,897 314,998 389,802 289,1002 430,789 327,928 341,786 251,1004 348,895 312,865 365,906 306,913 305,914 392,798 328,886 334,920 285,962 364,858 356,962 399,834 399,840 261,998 290,1000 400,811 402,828 293,915 282,1012 324,976 333,934 366,827 318,887 430,907 414,888 294,903 343,810 341,819 309,971 322,925 346,857 255,998 391,832 394,823 314,881 342,978 264,1010 341,824 324,988 392,782 308,995 221,1041 355,915 353,931 330,947 354,900 349,848 354,891 313,866 287,1001 393,773 387,870 299,990 391,841 375,868 399,867 447,841 376,807 291,1005 298,894 316,910 315,905 410,891 270,988 402,786 345,969 300,908 237,1017 346,970 317,925 293,1006 408,801 363,808 285,1010 325,974 365,833 346,940 324,896 371,851 347,875 302,1001 400,825 300,934 328,960 415,829 323,983 391,852 355,873 296,912 341,964 355,889 277,991 403,772 318,897 408,790 402,838 442,787 414,844 401,872 354,939 437,777 315,925 431,787 350,917 293,910 438,776 397,840 408,806 401,788 341,951 352,945 393,823 325,990 351,948 348,852 318,912 365,845 365,903 293,910 343,809 348,908 321,902 235,1018 405,797 343,839 460,787 434,798 276,993 390,816 351,933 391,853 281,989 341,975 333,930 365,882 392,790 298,884 296,893 307,988 220,1041 431,969 361,802 311,968 390,795 306,977 311,966 357,937 301,909 357,812 394,876 420,806 398,844 394,843 485,901 360,919 260,1011 312,893 285,964 388,842 248,1000 390,825 395,858 319,865 329,814 334,912 301,843 393,806 288,955 325,910 348,890 320,910 277,1016 255,1006 366,904 400,845 405,800 399,777 394,895 346,837 258,1025 315,853 326,930 342,969 325,938 323,908 348,829 331,897 391,820 327,951 391,903 365,792 365,855 406,806 317,840 341,796 296,896 328,958 323,976 358,832 307,990 367,861 348,952 403,827 410,816 402,837 311,999 371,891 218,1036 395,780 281,999 262,1021 396,879 358,933 318,974 390,795 318,958 297,1005 392,889 347,792 436,807 345,852 293,896 399,875 346,911 398,850 297,926 394,821 391,808 328,926 324,870 352,949 259,1004 324,883 392,895 437,838 364,910 360,939 342,792 306,904 394,782 425,906 297,860 375,911 372,850 334,956 394,867 360,928 430,814 281,1004 265,977 300,910 422,797 425,906 286,964 375,877 257,1002 285,970 343,798 391,815 394,890 362,923 409,826 323,976 391,877 411,834 360,803 396,835 426,815 358,935 334,921 255,998 351,860 286,963 398,823 391,886 389,773 317,883 395,840 319,964 356,919 429,797 334,892 355,914 349,922 394,825 229,1022 360,933 275,986 316,918 317,902 391,828 360,797 342,800 315,829 344,836 373,919 416,802 347,950 294,907 290,984 303,997 332,923 419,790 344,874 390,891 276,1019 398,834 290,979 338,905 333,914 342,819 343,845 366,849 310,977 348,924 312,982 374,790 352,918 324,961 335,944 320,968 421,920 311,1004 293,895 389,901 327,900 312,873 344,804 361,887 315,998 406,854 298,911 330,914 360,901 337,961 329,895 409,859 319,963 399,861 307,945 312,884 286,959 352,804 424,792 361,822 365,957 393,780 310,899 407,856 390,810 397,817 249,1007 323,913 427,790 286,1013 317,888 351,873 437,836 339,904 310,984 342,801 390,774 342,833 343,811 365,879 393,855 406,787 373,805 287,969 313,848 414,830 294,894 319,977 353,812 327,889 326,974 392,809 419,774 315,986 348,924 366,927 243,1016 318,897 298,773 301,921 403,876 378,852 368,853 297,877 436,785 349,801 376,883 372,854 301,916 326,960 258,1027 308,926 297,997 401,825 391,816 329,885 370,795 331,933 299,895 294,903 330,896 329,894 409,836 335,965 415,859 348,882 404,897 348,875 426,888 309,929 351,843 309,925 273,1025 277,982 416,781 427,796 447,802 321,921 359,841 350,890 299,1001 446,872 422,785 406,823 293,910 360,925 395,896 356,886 393,841 385,850 289,999 403,778 346,948 363,873 361,825 361,953 360,797 327,924 310,891 362,955 322,880 326,917 331,927 318,899 360,782 319,908 391,885 353,851 320,982 417,788 323,943 409,778 419,793 325,937 347,904 264,1004 344,807 381,831 397,940 350,889 336,974 334,931 418,820 275,1017 425,847 323,968 350,932 328,852 350,818 332,891 351,926 389,805 341,809 362,818 225,1032 357,779 360,912 236,1018 338,925 372,899 310,940 333,919 408,835 274,1022 310,984 392,827 300,832 399,850 489,893 384,836 397,811 336,857 362,824 262,1008 315,881 361,939 368,847 397,845 296,871 307,926 297,880 360,922 303,938 399,867 391,857 398,880 460,900 418,834 396,861 327,975 352,809 406,800 330,939 369,878 349,863 289,981 295,904 342,818 346,837 361,935 400,846 353,836 351,863 364,899 408,851 413,782 316,916 316,995 437,801 325,970 299,1005 414,799 319,884 402,802 305,1004 320,908 356,846 437,798 394,786 366,869 360,944 392,819 417,808 312,984 306,954 390,894 281,1001 357,949 248,1005 274,978 335,962 328,964 395,837 331,808 402,886 343,818 413,819 347,926 343,780 352,942 355,930 325,954 360,822 365,889 323,937 297,905 401,871 409,843 255,1000 365,869 311,935 395,800 329,949 457,816 353,854 351,929 262,1016 335,983 333,945 256,999 358,870 293,883 274,982 309,928 277,987 276,982 410,837 308,987 363,775 255,1029 353,889 394,827 347,869 352,776 411,831 311,920 295,835 406,797" fill="none" stroke="none" marker-start="url(#m)" marker-mid="url(#m)" marker-end="url(#m)"/>
<path d="M418.6 815.7C420.9 816.0 428.0 816.7 432.6 817.4C437.3 818.2 439.7 819.6 446.7 820.2C453.7 820.9 465.4 821.5 474.7 821.3C484.1 821.2 493.5 820.9 502.8 819.4C512.2 817.9 521.5 815.2 530.9 812.4C540.3 809.5 550.9 805.8 559.0 802.5C567.0 799.3 575.8 794.3 579.2 792.7L579.2 841.8C575.8 841.2 567.0 839.4 559.0 838.2C550.9 837.0 540.3 835.7 530.9 834.8C521.5 833.9 512.2 833.4 502.8 832.6C493.5 831.7 484.1 830.8 474.7 829.8C465.4 828.7 453.7 827.7 446.7 826.4C439.7 825.0 437.3 822.9 432.6 821.6C428.0 820.3 420.9 819.0 418.6 818.5Z" fill="#99a09c" fill-opacity=".22"/>
<path d="M217.9 1042.0C220.9 1040.3 230.7 1035.2 236.1 1031.9C241.5 1028.6 245.5 1026.0 250.1 1022.3C254.8 1018.7 259.5 1015.6 264.2 1010.3C268.9 1005.0 273.5 997.2 278.2 990.6C282.9 984.1 287.6 976.6 292.3 971.0C296.9 965.4 302.1 961.1 306.3 956.9C310.5 952.7 313.8 950.6 317.5 945.7C321.3 940.8 325.0 934.5 328.8 927.5C332.5 920.4 336.2 911.1 340.0 903.6C343.7 896.1 347.5 888.6 351.2 882.5C355.0 876.5 358.7 871.5 362.4 867.1C366.2 862.7 369.9 859.8 373.7 855.9C377.4 851.9 381.2 847.7 384.9 843.2C388.6 838.8 392.9 832.8 396.1 829.2C399.4 825.5 402.2 823.1 404.6 821.3C406.9 819.6 407.8 819.2 410.2 818.5C412.5 817.8 414.9 817.0 418.6 817.1C422.3 817.3 428.0 818.4 432.6 819.4C437.3 820.4 442.0 822.1 446.7 823.0C451.3 824.0 456.0 824.5 460.7 825.0C465.4 825.5 470.1 825.6 474.7 825.8C479.4 826.0 484.1 826.1 488.8 826.1C493.5 826.1 498.1 826.1 502.8 825.8C507.5 825.6 512.2 825.2 516.9 824.7C521.5 824.2 526.2 823.6 530.9 823.0C535.6 822.5 540.3 821.9 544.9 821.3C549.6 820.8 553.3 820.3 559.0 819.7C564.7 819.0 575.8 817.8 579.2 817.4" fill="none" stroke="#2AA198" stroke-width="5.3" stroke-linejoin="round"/>
</g>
<text class="st" x="446.4" y="694.0">Premium</text>
</g>
<g class="panel">
<rect x="718.7" y="649.0" width="504.7" height="67.9" fill="#213f48"/>
<rect x="718.7" y="716.9" width="504.7" height="346.9" fill="#133540"/>
<g clip-path="url(#c4)">
<path d="M770.3 716.9V1063.8M865.6 716.9V1063.8M961.0 716.9V1063.8M1056.4 716.9V1063.8M1151.8 716.9V1063.8M718.7 1009.5H1223.4M718.7 936.5H1223.4M718.7 863.6H1223.4M718.7 790.6H1223.4M718.7 717.6H1223.4" stroke="#002B36" stroke-width="1.9" fill="none"/>
<path d="M722.6 716.9V1063.8M818.0 716.9V1063.8M913.3 716.9V1063.8M1008.7 716.9V1063.8M1104.1 716.9V1063.8M1199.5 716.9V1063.8M718.7 1046.0H1223.4M718.7 973.0H1223.4M718.7 900.0H1223.4M718.7 827.1H1223.4M718.7 754.1H1223.4" stroke="#002B36" stroke-width="3.8" fill="none"/>
<polyline points="804,999 753,1032 751,1031 773,1011 792,984 752,1038 746,1039 838,967 753,1031 777,1015 753,1037 837,911 818,979 799,1000 790,1015 756,1030 751,1036 790,1015 751,1034 823,978 901,877 790,1020 783,1007 759,1034 791,995 792,1014 792,1004 764,1025 820,983 837,951 865,921 810,991 819,952 762,1025 753,1034 751,1033 778,1020 764,1026 759,1027 773,1023 866,827 854,930 753,1031 791,1011 761,1031 751,1036 794,1013 874,892 824,980 792,1008 868,876 852,930 767,1030 818,918 772,1023 755,1032 778,1018 775,1022 819,979 791,999 753,1028 818,979 757,1036 824,967 822,897 763,1032 762,1029 866,889 913,831 799,1005 753,1029 819,968 791,994 789,1001 760,1028 761,1032 819,939 761,1035 866,846 791,1025 763,1030 872,863 781,1026 774,1022 759,1035 754,1033 758,1035 759,1036 916,844 819,970 888,902 774,1023 839,901 773,1028 808,973 823,963 772,1022 790,1002 760,1033 780,1014 758,1031 915,856 764,1030 778,1014 792,1009 801,985 770,1022 829,970 764,1034 771,1024 770,1015 822,960 757,1031 771,1025 789,1009 766,1033 763,1026 808,1000 889,900 913,806 843,881 756,1036 790,986 822,949 818,927 821,962 771,1016 771,1024 767,1024 838,960 751,1029 819,929 747,1036 749,1037 753,1036 793,999 795,994 755,1033 771,1024 749,1038 867,810 765,1024 865,894 867,929 762,1028 822,958 828,964 840,952 774,1021 787,1013 818,972 754,1034 784,1001 828,955 755,1035 770,1015 823,927 775,1015 772,1029 837,885 790,999 838,940 782,1005 790,1011 802,1007 790,999 868,913 866,920 750,1039 799,1003 774,1015 845,939 747,1037 790,1013 790,1006 778,1017 791,1023 754,1036 779,1019 833,926 914,781 763,1026 767,1029 770,1025 834,959 791,1010 837,950 766,1022 774,1018 778,1025 770,1031 764,1022 835,926 824,915 778,1019 778,1011 837,949 869,813 762,1033 847,930 752,1039 832,936 868,873 838,897 889,856 871,879 922,803 789,990 778,1005 838,940 770,1026 844,908 818,932 840,972 773,1015 819,983 770,1021 775,1017 774,1029 818,939 771,1019 818,953 818,951 748,1039 827,956 885,917 820,993 827,948 821,970 790,1012 776,1022 798,986 796,997 874,912 834,943 823,992 819,949 874,892 838,927 764,1033 811,985 770,1021 745,1036 779,1012 825,959 820,968 770,1016 776,1015 792,1021 819,986 819,980 866,903 753,1029 790,983 811,974 843,945 771,1012 770,1020 823,949 763,1019 790,994 915,864 749,1034 767,1027 829,904 867,937 794,1007 819,923 819,977 838,964 773,1010 789,1004 868,911 797,997 762,1027 757,1027 777,1017 810,969 757,1025 753,1028 797,1000 820,952 826,965 792,1008 785,1007 881,819 790,1019 790,993 761,1035 790,1000 793,1006 868,905 818,974 797,1007 778,1026 818,934 915,788 838,963 916,849 830,920 791,1005 762,1023 818,981 866,938 819,975 761,1026 913,799 771,1019 765,1029 826,963 937,806 828,973 771,1019 824,930 881,847 836,986 830,939 776,1004 886,849 826,955 809,993 839,978 797,1014 797,1012 827,975 797,998 821,986 773,1026 824,922 782,1018 838,930 770,1019 777,1025 916,863 819,975 779,1026 818,916 915,838 796,999 830,951 866,866 775,1025 827,959 866,914 837,933 924,802 834,935 835,962 820,933 837,948 877,892 866,863 749,1039 790,1008 791,989 821,956 829,948 919,829 762,1023 819,973 763,1019 761,1019 838,949 764,1034 837,860 820,947 763,1022 848,941 790,1002 819,984 819,934 830,950 770,1027 841,953 796,1011 838,922 837,943 794,999 775,1009 826,992 779,1007 883,875 786,1006 837,924 789,1018 820,902 822,980 867,876 884,889 872,919 820,965 755,1039 818,986 782,1001 818,948 818,966 844,939 827,944 875,794 770,1026 744,1040 760,1017 754,1027 873,818 867,890 876,855 885,864 762,1025 843,947 837,978 757,1025 838,910 809,983 760,1037 891,788 888,879 819,983 810,1001 773,1008 771,1027 811,959 871,894 761,1036 877,913 867,860 827,974 762,1018 885,931 835,964 771,1003 803,1007 777,1021 818,959 894,916 775,1014 867,933 833,942 837,917 818,997 792,993 871,891 819,939 776,1018 775,1027 836,902 886,890 835,958 836,951 757,1027 822,934 749,1034 771,1029 917,842 881,931 761,1026 827,920 766,1017 792,1000 795,994 797,1000 794,984 772,1012 876,876 764,1019 868,956 819,953 798,984 837,929 818,960 821,943 866,825 772,1013 865,887 761,1026 878,810 820,955 819,996 834,921 824,951 825,930 776,1012 791,987 840,953 792,1012 866,920 764,1022 819,958 749,1034 868,838 795,992 784,1019 792,1001 762,1022 865,937 819,944 781,1017 822,950 820,996 825,915 822,975 824,907 800,997 793,1008 935,830 819,983 830,956 873,958 819,991 837,975 829,921 829,931 804,985 828,976 818,971 798,991 870,926 820,961 819,809 819,1005 869,873 782,1019 746,1031 767,1029 867,917 819,937 774,1011 838,945 870,878 844,942 944,790 819,946 791,990 846,922 785,1019 764,1016 791,1018 866,871 843,903 795,994 819,938 838,934 826,950 792,1011 770,1011 818,981 855,903 826,985 821,960 876,862 819,974 823,974 878,846 745,1039 842,907 914,846 847,945 837,961 863,887 745,1035 867,847 867,862 766,1023 945,813 866,926 869,936 790,993 856,909 820,990 776,1012 917,853 818,954 865,928 801,1005 843,896 843,952 809,952 914,851 840,963 825,980 808,1002 823,911 827,981 820,959 745,1034 796,1018 782,1008 867,910 772,1004 915,807 823,966 889,894 819,899 869,924 838,939 915,849 773,1030 823,932 825,946 915,838 837,951 798,1017 915,812 759,1026 777,1026 755,1026 828,980 856,822 837,963 797,1009 820,964 809,989 808,995 819,948 927,787 783,1014 962,797 824,963 798,991 805,1011 889,851 823,962 827,964 836,925 751,1028 795,983 843,920 812,988 837,965 827,954 794,1005 811,990 839,902 850,885 762,1014 916,863 845,908 772,1012 778,1021 837,953 851,891 847,927 867,859 831,953 832,952 830,985 821,977 804,1004 842,937 823,962 818,989 886,835 830,922 818,893 799,997 747,1038 845,963 885,880 827,916 772,1007 913,889 825,978 865,907 914,873 840,957 818,963 829,823 775,1007 838,955 867,919 828,962 794,999 809,986 777,1009 820,965 796,1006 827,928 840,960 822,972 866,924 872,926 867,911 826,968 755,1021 808,981 818,887 819,967 820,951 838,913 823,944 810,955 840,973 829,979 818,986 778,1000 792,999 838,854 855,964 801,981 818,989 826,835 745,1036 888,917 749,1032 747,1034 819,954 833,930 916,825 784,1012 820,994 866,883 829,936 783,1009 822,929 767,1022 913,814 967,796 939,806 819,993 839,915 888,932 859,911 823,982 831,907 819,961 908,879 830,970 914,840 884,865 829,979 837,909 916,839 803,1003 818,960 828,948 777,1007 793,1004 819,997 866,861 784,1010 818,967 893,774 867,912 809,982 818,891 811,964 831,975 798,1008 808,1009 819,947 838,904 838,773 840,920 819,977 818,931 872,855 887,897 897,810 793,1015 825,951 895,864 915,856 865,916 825,967 849,907 821,972 921,807 837,882 819,961 824,975 828,918 796,1017 774,1006 867,885 823,986 819,965 808,953 815,992 819,1000 820,985 866,880 808,980 917,841 819,948 837,947 809,972 818,938 793,1015 839,947 810,974 838,894 762,1018 819,843 820,985 794,987 819,992 828,929 774,1030 879,886 754,1039 820,968 809,997 837,949 915,826 825,952 809,985 869,905 819,969 842,910 755,1024 874,898 777,1016 770,1031 842,908 809,958 838,889 822,1004 866,781 822,955 840,937 799,1000 837,944 842,930 825,911 830,915 844,925 839,917 841,939 892,823 820,835 867,828 823,965 883,839 798,1014 866,916 837,932 866,893 798,1010 873,894 865,930 818,946 843,938 819,941 802,987 840,939 868,897 770,1013 801,993 870,897 809,987 783,991 800,1002 928,833 797,1007 819,936 867,899 828,961 768,1023 915,854 915,831 874,924 867,915 819,995 819,988 808,986 838,957 868,871 821,888 831,936 847,863 783,1015 822,941 885,835 868,894 851,953 860,931 777,1010 885,925 849,935 866,810 821,974 873,888 879,896 865,823 868,893 783,1012 796,988 865,868 869,871 915,782 802,1001 837,968 818,996 885,826 917,832 835,965 872,894 838,896 766,1020 832,966 872,911 799,996 866,775 840,939 822,988 842,952 846,954 823,983 834,953 840,934 871,893 848,943 873,853 840,809 920,826 844,922 798,1004 810,970 793,988 866,889 845,948 828,938 820,972 881,915 828,935 828,975 775,1005 819,998 828,974 875,891 865,943 902,894 780,1010 862,957 819,991 868,798 865,924 789,1025 872,810 753,1039 879,921 914,852 831,933 819,929 819,936 833,963 809,993 842,925 886,871 878,904 923,828 825,925 879,844 917,852 823,877 766,1032 793,1004 821,999 795,1004 800,995 755,1024 798,1010 867,896 853,915 809,1006 923,813 869,897 914,799 840,942 820,889 808,983 819,971 823,951 867,899 885,813 818,941 867,882 809,1007 809,988 867,898 867,835 885,888 783,1014 866,902 863,888 820,990 838,971 927,788 809,977 770,1010 799,993 867,867 790,984 832,942 868,884 870,851 824,959 859,950 913,843 840,943 866,902 797,987 797,1012 818,913 788,1008 833,970 809,1004 824,943 815,1003 840,883 829,939 828,976 803,990 826,953 776,1008 831,909 826,979 868,875 819,910 778,1030 823,853 791,987 770,1030 882,906 797,1017 819,991 871,826 777,1004 794,993 866,900 808,979 837,960 838,922 868,886 837,838 841,920 824,911 801,981 770,1010 913,861 837,896 773,1010 819,938 840,886 879,853 829,961 782,1021 783,1014 821,944 838,933 842,966 913,846 822,950 845,907 792,992 812,931 918,778 833,955 867,924 828,925 820,999 819,923 828,982 883,858 781,1020 867,816 846,947 799,996 808,992 941,803 831,968 786,997 781,1009 872,826 868,938 832,982 826,988 926,850 780,1028 783,1011 858,901 799,1002 832,882 872,936 914,819 812,984 875,908 830,949 788,998 837,913 952,836 766,1017 825,991 809,996 831,987 809,1015 794,1019 824,985 849,948 831,983 847,949 857,919 842,967 871,846 785,1004 837,923 828,981 886,875 866,905 866,927 792,984 829,942 829,917 792,980 872,927 835,948 868,849 922,814 828,988 784,1023 837,944 887,892 824,958 796,994 819,899 880,897 869,915 872,877 863,944 808,967 843,930 799,989 866,873 802,987 923,843 782,999 818,874 841,969 780,1005 922,833 798,990 839,904 812,992 818,991 838,877 869,925 842,946 866,944 831,988 845,939 803,1001 803,992 837,957 823,965 820,1000 866,904 868,901 866,871 872,917 765,1020 792,1015 784,1011 840,780 818,955 786,1002 866,877 845,943 867,869 818,854 779,993 782,1011 866,888 876,854 866,856 792,990 866,952 751,1023 916,870 827,962 824,971 872,903 944,800 872,890 827,985 913,798 946,836 885,884 870,910 819,945 869,852 835,947 825,982 872,916 849,968 781,1023 849,910 865,934 914,819 781,1013 837,911 827,982 828,930 920,819 865,910 866,865 887,890 866,932 828,991 798,984 809,990 749,1032 914,785 814,966 845,832 875,842 837,908 886,778 818,956 867,835 879,828 877,860 895,880 846,903 830,944 852,943 809,998 828,939 824,957 779,1009 913,836 885,878 866,839 840,955 825,974 837,954 823,973 808,975 797,988 847,956 836,953 868,910 871,877 915,857 819,934 809,963 842,939 918,862 866,895 885,827 866,896 823,924 873,905 827,969 821,932 797,1019 855,840 824,928 913,844 825,967 831,931 886,829 963,808 843,879 877,895 858,933 821,917 867,937 840,897 876,875 851,940 885,828 866,909 837,931 824,999 837,965 840,943 844,795 841,932 821,1003 875,850 801,981 833,945 838,877 848,930 847,951 833,826 829,971 780,1007 886,898 884,817 867,886 827,903 832,917 829,962 826,990 867,928 830,967 869,896 824,923 865,892 874,899 915,860 833,976 831,903 843,885 819,929 877,903 780,1003 867,842 768,1011 847,892 812,973 875,897 866,899 966,773 892,877 841,930 889,889 914,847 895,784 799,980 806,1011 796,979 849,913 866,928 849,930 808,967 826,993 891,836 830,943 838,926 825,969 811,964 871,884 804,1008 837,900 837,907 819,773 837,969 841,909 759,1019 884,885 890,892 799,1000 788,1013 869,888 841,831 885,854 824,956 856,897 818,921 783,1016 865,780 870,841 787,1007 831,948 832,889 867,906 866,922 819,1007 820,1006 839,903 886,881 783,1009 833,943 771,1004 842,872 867,947 844,967 849,932 782,1001 800,989 874,872 886,873 831,977 810,1002 868,919 830,957 787,991 829,935 837,947 809,978 808,997 838,923 767,1014 914,828 837,919 776,1030 781,1012 869,898 833,957 831,886 829,945 844,786 831,925 837,917 850,927 785,995 826,944 819,901 866,927 914,836 809,1002 885,819 785,1023 867,824 870,914 784,1009 836,866 888,906 819,930 914,801 832,967 828,953 796,1005 885,844 838,980 921,824 928,850 830,912 829,975 873,908 799,988 885,873 867,935 847,903 866,906 818,920 883,821 831,958 866,879 832,975 886,913 829,889 840,960 780,1031 914,791 796,993 814,980 783,1024 874,894 868,785 826,943 868,883 841,944 824,986 875,884 828,958 829,924 829,928 914,777 832,946 845,918 788,1009 777,1004 820,989 837,874 925,824 830,953 864,799 837,966 828,952 830,941 924,782 866,915 827,956 915,806 824,988 914,826 819,909 868,902 870,898 885,925 767,1032 920,812 811,1001 811,970 843,953 814,1005 890,871 838,899 801,977 844,914 819,914 839,883 935,788 875,837 914,835 917,840 879,920 858,939 822,988 835,917 800,1018 743,1040 939,830 886,881 775,1033 837,931 936,790 892,825 918,840 892,882 837,891 824,995 929,828 819,924 822,936 819,999 930,830 792,990 844,945 774,1029 915,784 869,943 850,936 851,900 824,945 808,1005 753,1021 930,804 868,908 859,946 835,963 753,1025 914,847 940,824 871,914 843,921 833,930 782,1002 810,979 862,930 936,798 830,977 827,983 985,854 847,967 1010,812 888,791 833,973 926,818 809,960 818,1002 842,933 823,935 845,933 809,1002 829,965 779,1027 846,899 868,901 875,921 868,874 838,972 847,939 875,927 819,875 823,937 823,988 871,814 762,1017 826,953 838,917 885,873 759,1038 833,910 890,864 837,977 874,883 763,1012 918,841 875,894 833,965 845,912 870,806 819,906 842,886 831,941 866,852 871,912 853,916 868,857 867,912 852,947 870,884 844,948 899,878 870,851 802,992 800,1005 850,900 837,937 819,945 880,880 913,861 913,830 869,856 793,988 814,989 839,892 915,814 840,979 846,925 834,961 914,832 886,882 896,850 878,870 799,980 868,856 872,881 850,936 873,912 837,916 885,860 818,925 885,816 829,786 808,967 779,1002 848,936 824,900 820,950 838,930 771,1032 841,910 914,785 842,845 843,934 845,900 829,946 866,879 839,979 872,928 827,897 867,827 810,1000 789,1026 900,849 875,923 842,956 818,942 846,930 821,773 853,929 784,1004 832,939 820,924 885,904 824,947 872,924 781,1026 914,863 805,983 919,874 822,902 783,1000 915,862 870,879 962,788 820,909 820,927 870,851 916,835 917,861 853,904 841,948 836,819 844,955 852,876 866,849 866,935 847,899 819,1006 810,988 982,877 865,876 884,789 753,1022 837,941 783,1014 840,974 830,905 866,830 940,816 751,1026 814,942 819,925 868,859 880,894 874,889 832,916 804,977 818,918 866,935 830,965 825,956 879,881 865,874 889,840 823,932 861,873 866,874 925,803 837,890 888,900 828,986 965,789 886,867 809,976 915,838 943,815 848,954 779,1028 833,931 916,849 838,971 819,908 843,925 845,937 838,973 845,962 824,970 851,833 886,865 847,906 866,940 841,927 759,1020 823,926 924,814 876,823 780,1003 914,825 842,963 915,834 829,921 864,884 848,946 829,931 833,906 825,956 789,982 868,893 881,904 831,965 868,925 915,807 830,892 1056,862 806,1001 820,909 915,848 914,871 824,1000 868,854 885,871 858,892 847,976 827,981 832,902 951,786 915,838 827,947 837,855 826,908 821,919 868,854 814,994 915,868 841,973 901,779 796,983 921,830 949,810 829,875 833,900 867,855 853,925 867,859 830,886 821,928 811,998 887,862 820,916 866,819 915,840 870,894 831,985 791,977 866,881 843,972 920,783 797,988 794,973 876,872 845,846 766,1012 829,856 927,831 831,942 915,814 826,963 841,943 851,951 855,941 846,935 826,970 846,876 869,889 848,902 847,977 921,831 818,1001 876,813 837,930 841,983 833,809 844,919 810,943 869,918 839,968 834,956 832,889 919,791 805,1008 868,906 823,975 878,836 916,830 797,992 876,805 850,939 831,928 878,844 830,941 752,1023 886,851 844,970 867,778 914,776 759,1017 791,971 875,833 841,916 792,1023 761,1017 827,914 825,936 851,970 826,911 914,817 837,904 832,877 841,924 927,822 782,1027 914,858 811,993 871,901 867,851 791,983 878,881 867,930 797,964 919,832 828,969 813,960 845,936 844,922 781,1023 846,909 982,786 830,985 835,919 851,958 834,971 952,803 885,892 873,879 837,989 840,959 918,870 793,1020 917,811 849,865 810,976 837,885 868,931 819,918 838,899 860,942 827,935 828,911 843,972 793,983 886,876 840,936 842,941 820,930 786,1011 825,902 840,881 885,860 840,893 842,890 819,886 808,957 867,849 861,932 879,890 832,978 889,776 849,913 763,1010 831,959 875,813 841,936 828,908 826,920 811,979 917,815 871,905 851,930 867,882 867,860 866,818 868,820 823,946 820,939 924,833 866,847 877,929 890,864 848,832 831,915 873,903 771,1003 819,924 824,977 794,1021 890,860 829,911 846,910 844,933 877,814 893,894 886,875 929,782 831,934 840,918 833,948 765,1017 870,866 913,895 930,822 834,903 837,926 904,829 849,915 827,915 762,1016 845,918 829,897 866,845 901,865 828,957 835,883 822,997 884,881 886,848 897,893 885,873 870,890 868,863 869,893 820,902 743,1041 885,919 831,905 948,806 819,838 866,810 823,933 886,851 800,980 867,845 837,954 825,925 847,881 837,882 884,859 819,899 841,957 763,1015 783,1024 922,836 868,917 819,893 866,831 826,947 818,926 869,849 856,854 824,890 932,864 794,980 811,994 818,905 803,988 870,841 895,897 839,907 819,940 882,813 914,794 851,927 784,1023 820,931 809,1015 922,845 809,971 913,855 884,889 889,867 824,990 819,888 852,931 838,925 841,884 881,836 789,1022 940,820 882,883 885,803 842,924 847,951 818,872 843,957 825,937 913,865 914,811 836,955 842,951 876,847 962,833 866,808 808,961 854,924 878,922 914,829 888,877 781,1005 865,775 917,817 890,907 867,857 915,824 868,813 842,962 847,939 830,928 838,778 886,856 839,986 886,823 934,819 779,1029 879,808 877,777 966,809 824,935 821,905 837,967 852,947 924,778 816,996 842,905 820,919 915,829 840,881 886,917 794,975 870,842 790,968 821,854 892,859 808,951 842,948 837,962 914,851 871,775 825,897 846,947 851,917 916,803 868,818 785,1019 858,891 846,964 918,877 865,842 880,882 823,886 932,835 846,937 837,900 875,821 870,887 917,825 825,914 866,857 885,874 820,924 896,874 837,977 833,977 832,982 871,934 804,981 872,915 786,1000 799,1010 827,924 851,955 851,945 786,999 784,1021 831,960 894,895 915,864 917,807 890,868 829,882 875,809 869,922 831,966 749,1031 859,887 819,915 874,927 866,931 916,802 925,834 825,913 845,956 791,965 808,963 779,995 824,928 869,909 855,936 841,871 828,924 922,790 815,1011 832,981 978,792 842,873 803,1004 855,902 805,993 834,970 818,900 875,885 837,858 914,819 846,915 810,986 879,876 847,958 847,934 827,926 944,780 837,986 850,890 841,884 815,980 885,905 919,844 873,877 914,826 833,937 800,976 810,1009 875,795 862,931 870,929 804,998 875,852 790,979 921,833 844,976 866,780 849,892 849,946 826,992 785,1021 835,826 913,864 838,919 866,788 913,803 915,834 787,1001 830,996 826,920 896,888 819,883 913,867 913,856 844,925 933,805 905,880 814,952 849,939 845,917 850,924 800,984 752,1022 793,1019 867,790 794,974 838,892 885,832 838,919 813,987 804,988 886,869 844,902 819,901 832,901 827,922 888,885 953,804 834,973 825,899 885,924 921,804 798,1021 868,880 819,897 844,913 931,804 861,930 826,859 835,977 818,914 838,863 841,896 914,786 858,785 872,901 889,822 743,1036 832,949 837,947 837,888 834,912 837,929 794,1025 827,925 830,958 846,898 800,1020 888,907 922,838 866,869 885,881 838,844 766,1014 843,932 951,821 801,976 848,915 870,933 837,875 804,968 837,924 802,993 790,1020 850,938 845,901 788,1005 845,931 849,944 848,943 923,794 920,782 829,908 818,901 787,1015 963,783 843,952 825,928 783,985 831,881 866,852 759,1020 801,999 809,961 866,802 832,916 867,837 892,785 886,865 918,793 878,905 798,977 827,984 926,833 837,881 867,840 805,1007 827,918 918,796 854,903 889,893 890,908 833,986 825,917 857,915 933,823 837,880 942,806 885,863 885,861 877,850 825,970 934,773 858,923 787,1005 828,982 942,819 833,950 849,951 867,839 847,953 837,971 844,936 851,948 856,914 811,952 795,979 918,855 827,914 938,781 885,893 843,914 805,983 801,979 837,912 762,1014 809,964 868,842 916,850 868,886 888,828 827,935 913,852 820,1004 863,914 944,784 888,838 788,1014 882,860 797,977 840,950 807,1011 819,908 816,984 932,846 923,798 818,1004 832,911 826,934 891,837 885,897 894,847 875,944 850,890 891,774 878,880 813,1004 814,951 828,960 812,966 815,1004 866,940 927,854 1010,805 894,813 841,924 867,913 821,918 843,967 875,826 873,912 876,786 914,827 851,923 941,839 913,818 791,974 848,968 840,915 857,931 929,822 887,807 745,1041 759,1022 919,825 828,893 845,882 870,834 847,932 911,814 854,960 914,871 856,950 848,959 915,784 885,846 823,976 916,825 848,846 828,877 901,851 801,983 874,904 788,1011 928,781 941,823 914,874 872,833 850,927 886,887 851,967 779,1001 881,823 885,906 884,915 913,804 871,837 842,960 818,912 854,924 886,874 836,878 914,797 848,916 841,913 830,902 852,934 848,910 936,825 913,811 895,854 917,830 840,971 914,854 800,986 818,899 914,790 876,825 868,890 823,997 915,799 837,929 848,923 790,975 867,819 830,893 783,1004 809,955 840,889 823,905 829,914 811,977 827,894 885,851 875,931 873,880 884,912 860,876 872,907 885,845 880,890 784,1005 819,913 849,922 964,803 933,785 873,886 852,887 830,967 880,801 792,980 833,892 820,913 841,897 799,1019 875,937 764,1008 824,1002 820,877 877,810 918,864 847,960 866,940 873,845 857,936 873,921 827,994 824,996 937,832 843,913 845,825 772,998 831,894 885,917 742,1039 871,906 819,1005 926,775 876,829 794,984 915,870 877,915 870,928 914,789 885,826 915,877 886,799 810,1002 869,866 800,977 872,906 916,809 788,1002 875,851 890,888 866,812 889,883 837,982 841,904 852,898 844,917 852,890 880,893 877,799 784,996 860,946 883,908 914,780 819,918 834,922 808,972 928,802 871,910 839,984 868,941 815,963 839,872 848,874 867,852 818,888 793,979 923,783 758,1038 813,973 884,846 804,1010 927,836 792,972 913,859 814,984 868,924 858,960 864,949 787,1015 874,814 847,918 928,823 885,782 868,882 908,891 842,901 914,773 845,893 882,884 868,823 836,873 832,857 875,912 803,1011 878,872 850,942 835,941 822,891 916,786 830,906 832,936 837,936 859,852 837,853 866,851 842,915 931,779 885,857 848,896 893,823 878,860 892,879 841,887 927,819 766,1011 790,977 874,887 838,985 807,995 949,812 747,1030 874,812 872,858 878,894 916,875 829,928 819,890 850,853 845,951 913,874 856,879 920,842 824,902 842,903 810,1007 885,785 916,895 866,777 964,790 875,777 878,899 924,790 872,899 885,832 764,1035 866,954 800,1013 830,920 880,895 894,841 818,903 832,988 863,942 876,886 833,924 833,943 870,923 885,911 819,907 953,822 787,1020 822,940 874,880 854,924 810,963 804,974 857,922 915,808 900,826 871,841 870,884 889,860 847,919 837,859 845,964 955,779 873,909 837,912 837,930 806,973 938,791 869,941 842,873 873,859 884,884 778,995 806,996 841,933 870,859 885,902 867,957 900,839 819,911 744,1040 885,822 823,880 860,927 813,962 916,862 828,909 852,908 867,831 763,1012 857,943 841,890 847,961 921,833 822,776 868,866 848,885 786,1002 917,865 837,836 833,896 872,886 861,945 821,896 877,916 875,789 886,870 886,906 880,840 847,922 876,835 828,903 829,969 746,1030 842,897 867,828 888,916 920,796 876,925 874,874 791,1027 876,865 795,1015 861,900 866,836 832,914 854,940 855,896 809,965 751,1023 869,866 845,911 797,982 916,834 942,788 888,881 868,915 917,790 844,915 880,894 855,914 818,875 836,986 956,803 887,845 877,862 869,835 920,880 914,870 812,997 847,926 883,866 770,999 897,804 886,782 843,962 887,796 831,913 867,844 913,801 839,986 847,887 790,969 843,911 804,979 835,901 921,846 914,845 757,1038 876,854 788,1017 872,833 869,817 913,808 866,816 837,886 855,971 742,1036 791,973 882,847 885,892 888,844 839,867 848,961 828,926 885,868 828,911 833,922 952,785 850,961 818,832 871,873 819,878 932,784 892,850 852,908 838,881 872,814 919,780 886,843 822,893 885,868 845,863 802,985 914,880 845,873 871,873 883,856 869,934 891,822 876,829 816,903 886,861 850,911 878,900 930,836 917,824 876,825 875,943 940,798 808,947 962,780 881,864 771,1000 919,820 854,960 819,892 914,820 841,882 834,842 840,973 833,921 839,852 907,912 886,894 868,775 781,998 813,971 914,780 829,989 959,814 800,969 890,851 882,910 828,1002 796,980 885,909 883,870 837,780 852,940 871,937 819,857 763,1035 801,1015 819,846 892,874 842,857 864,855 859,951 884,878 846,974 877,882 915,845 841,869 802,1013 876,845 889,838 770,1005 869,942 831,879 871,885 757,1016 897,869 881,882 837,876 871,936 827,882 833,919 866,953 830,994 773,1001 866,821 885,887 825,941 867,946 885,848 868,825 873,934 913,890 831,808 853,912 886,807 918,831 961,808 853,953 804,1017 837,889 847,884 837,905 846,929 874,930 877,893 926,786 837,915 886,861 850,926 795,965 913,813 818,888 871,842 886,792 889,796 819,866 799,1011 784,996 870,812 819,896 885,796 846,882 916,875 835,939 838,856 913,775 874,913 845,959 890,859 810,998 932,779 875,897 890,880 811,983 887,893 883,921 897,919 856,895 829,870 943,800 882,924 852,902 868,851 914,853 848,964 948,841 870,820 885,801 763,1035 834,973 832,844 892,825 811,933 821,1000 835,923 856,801 770,1006 810,987 827,947 871,930 915,865 814,980 880,889 860,806 842,861 840,887 833,955 894,880 833,979 826,904 834,955 808,971 873,835 937,849 885,849 858,928 877,912 771,1002 887,783 811,980 869,859 866,819 788,976 873,857 913,808 865,813 850,932 807,999 837,873 891,818 765,1032 887,929 868,846 835,849 825,998 916,797 847,905 867,800 847,847 849,942 894,820 849,908 819,905 916,773 887,895 879,885 876,865 842,975 875,901 918,843 824,798 847,921 883,899 838,872 805,987 869,889 843,898 923,870 929,829 803,971 895,841 841,898 769,1034 844,945 845,949 803,1012 834,940 947,798 820,922 851,932 886,805 819,873 891,872 848,867 823,908 816,967 914,877 851,907 876,832 818,885 913,773 873,851 819,924 939,781 918,870 905,855 878,908 932,818 955,790 919,809 958,782 885,789 848,908 758,1023 819,1003 884,864 825,906 877,810 836,935 806,1002 852,882 867,821 829,925 814,945 804,979 914,794 759,1017 870,805 847,939 802,999 889,825 941,860 870,875 931,811 844,961 813,994 867,805 836,973 924,840 942,840 843,930 849,892 819,904 825,908 828,987 938,776 880,864 820,878 930,778 853,932 927,810 919,825 837,912 867,951 867,811 859,870 865,804 802,1009 844,925 799,1011 815,952 887,808 802,982 913,878 916,798 897,881 920,873 887,891 786,1018 850,872 857,918 921,866 873,842 865,811 888,787 838,888 892,882 888,878 821,793 832,887 873,925 868,823 818,866 871,880 845,944 845,779 860,935 825,904 866,949 847,955 871,870 870,805 872,872 863,851 887,888 862,819 890,893 855,914 862,894 826,940 924,823 837,980 931,790 921,792 819,907 795,965 933,823 840,989 868,832 867,819 889,880 965,807 887,828 888,857 950,774 961,807 885,811 825,921 879,888 848,879 853,930 837,899 798,980 874,862 844,930 884,808 915,823 869,774 887,866 857,937 877,850 886,856 928,811 866,845 914,771 876,878 837,847 892,852 826,939 930,780 887,829 833,915 831,870 872,895 848,921 745,1041 864,934 814,993 890,825 843,902 861,921 870,826 835,983 920,821 854,947 826,904 830,842 922,773 847,939 784,1027 867,797 927,864 871,853 919,824 895,814 846,954 846,897 923,864 810,1009 819,870 931,843 920,863 918,792 806,992 812,952 811,982 835,895 866,833 837,911 819,902 867,811 870,881 942,841 875,914 943,796 878,815 843,978 875,863 870,855 846,879 860,948 866,781 826,940 830,913 927,818 882,919 844,976 869,863 932,794 850,823 936,850 914,794 913,877 920,776 830,990 822,813 820,909 893,834 821,882 879,917 934,811 853,903 922,848 833,905 840,861 830,801 881,839 877,864 874,875 867,788 951,777 914,796 835,847 887,870 933,822 847,963 891,883 925,795 889,842 819,894 862,937 903,858 868,867 852,886 829,996 798,975 843,874 808,943 913,880 845,892 857,925 1030,863 823,894 833,881 830,845 888,833 930,827 919,837 837,869 936,783 870,835 830,887 852,917 788,973 848,850 837,936 888,798 852,937 871,804 844,878 916,775 856,930 810,961 878,828 847,971 880,846 886,775 919,858 839,859 885,839 947,806 876,805 849,906 923,805 878,937 822,890 861,853 893,844 914,906 886,852 927,823 877,902 919,851 844,872 849,868 885,803 886,811 802,980 835,872 815,981 836,850 886,778 775,1000 866,802 918,839 925,789 867,947 867,943 914,824 814,990 886,804 889,775 880,874 849,853 885,786 873,888 821,842 885,887 813,985 820,870 868,861 770,1008 820,1006 890,847 889,868 865,802 889,902 916,787 842,833 827,933 916,885 917,859 895,914 840,802 914,885 914,884 801,996 873,922 882,886 896,830 812,962 844,875 875,868 888,823 828,862 841,903 888,889 924,835 855,936 879,906 810,967 845,911 820,862 916,780 837,878 869,833 762,1013 805,963 787,1004 874,878 897,863 877,866 867,836 876,836 835,803 854,911 870,795 852,947 853,935 934,838 874,855 848,928 923,774 819,836 844,886 968,806 896,855 842,853 832,885 915,785 811,983 867,783 934,802 898,850 850,915 923,783 884,799 799,965 836,899 878,900 874,862 844,880 863,934 856,949 922,805 927,884 814,972 801,1013 843,980 799,975 831,918 813,985 837,870 893,879 961,792 808,948 867,833 874,855 824,993" fill="none" stroke="none" marker-start="url(#m)" marker-mid="url(#m)" marker-end="url(#m)"/>
<path d="M957.3 807.6C959.7 807.9 966.7 808.7 971.4 809.5C976.0 810.4 980.7 811.6 985.4 812.9C990.1 814.2 994.8 816.0 999.4 817.4C1004.1 818.8 1008.8 820.1 1013.5 821.3C1018.2 822.6 1022.8 823.9 1027.5 825.0C1032.2 826.1 1036.6 826.9 1041.6 827.8C1046.5 828.7 1054.4 830.1 1057.0 830.6L1057.0 883.1C1054.4 880.4 1046.5 872.3 1041.6 867.1C1036.6 861.9 1032.2 856.2 1027.5 851.7C1022.8 847.1 1018.2 843.8 1013.5 839.9C1008.8 835.9 1004.1 831.2 999.4 827.8C994.8 824.4 990.1 821.9 985.4 819.4C980.7 816.9 976.0 814.5 971.4 812.9C966.7 811.3 959.7 810.3 957.3 809.8Z" fill="#99a09c" fill-opacity=".22"/>
<path d="M742.6 1042.0C745.6 1040.1 755.4 1034.4 760.8 1030.8C766.2 1027.1 770.2 1024.2 774.8 1020.1C779.5 1016.0 784.2 1011.7 788.9 1006.1C793.6 1000.5 798.2 993.4 802.9 986.4C807.6 979.4 812.3 971.2 817.0 964.0C821.6 956.7 826.3 950.2 831.0 942.9C835.7 935.6 840.4 928.2 845.0 920.4C849.7 912.7 854.4 903.8 859.1 896.6C863.8 889.3 868.4 882.8 873.1 876.9C877.8 871.1 882.5 867.6 887.1 861.5C891.8 855.4 896.5 846.7 901.2 840.4C905.9 834.1 910.5 828.0 915.2 823.6C919.9 819.1 924.6 816.1 929.3 813.8C933.9 811.4 938.6 810.4 943.3 809.5C948.0 808.7 952.7 808.5 957.3 808.7C962.0 808.9 966.7 809.8 971.4 810.9C976.0 812.1 980.7 813.9 985.4 815.7C990.1 817.6 994.8 819.8 999.4 822.2C1004.1 824.5 1008.8 827.1 1013.5 829.8C1018.2 832.4 1022.8 835.2 1027.5 838.2C1032.2 841.1 1036.6 844.4 1041.6 847.4C1046.5 850.5 1054.4 855.2 1057.0 856.7" fill="none" stroke="#2AA198" stroke-width="5.3" stroke-linejoin="round"/>
</g>
<text class="st" x="971.1" y="694.0">Ideal</text>
</g>
<text class="tk" text-anchor="end" x="175.6" y="624.0" textLength="13.9" lengthAdjust="spacingAndGlyphs">0</text>
<text class="tk" text-anchor="end" x="175.6" y="551.0" textLength="58.6" lengthAdjust="spacingAndGlyphs">5000</text>
<text class="tk" text-anchor="end" x="175.6" y="478.0" textLength="73.5" lengthAdjust="spacingAndGlyphs">10000</text>
<text class="tk" text-anchor="end" x="175.6" y="405.1" textLength="73.5" lengthAdjust="spacingAndGlyphs">15000</text>
<text class="tk" text-anchor="end" x="175.6" y="332.1" textLength="73.5" lengthAdjust="spacingAndGlyphs">20000</text>
<path d="M184.0 611.0H194.0M184.0 538.0H194.0M184.0 465.0H194.0M184.0 392.1H194.0M184.0 319.1H194.0" stroke="#b4b8af" stroke-width="4" fill="none"/>
<text class="tk" text-anchor="end" x="175.6" y="1059.0" textLength="13.9" lengthAdjust="spacingAndGlyphs">0</text>
<text class="tk" text-anchor="end" x="175.6" y="986.0" textLength="58.6" lengthAdjust="spacingAndGlyphs">5000</text>
<text class="tk" text-anchor="end" x="175.6" y="913.0" textLength="73.5" lengthAdjust="spacingAndGlyphs">10000</text>
<text class="tk" text-anchor="end" x="175.6" y="840.1" textLength="73.5" lengthAdjust="spacingAndGlyphs">15000</text>
<text class="tk" text-anchor="end" x="175.6" y="767.1" textLength="73.5" lengthAdjust="spacingAndGlyphs">20000</text>
<path d="M184.0 1046.0H194.0M184.0 973.0H194.0M184.0 900.0H194.0M184.0 827.1H194.0M184.0 754.1H194.0" stroke="#b4b8af" stroke-width="4" fill="none"/>
<text class="tk" text-anchor="middle" x="1247.1" y="670.8" textLength="13.6" lengthAdjust="spacingAndGlyphs">0</text>
<text class="tk" text-anchor="middle" x="1342.5" y="670.8" textLength="13.6" lengthAdjust="spacingAndGlyphs">1</text>
<text class="tk" text-anchor="middle" x="1437.8" y="670.8" textLength="13.6" lengthAdjust="spacingAndGlyphs">2</text>
<text class="tk" text-anchor="middle" x="1533.2" y="670.8" textLength="13.6" lengthAdjust="spacingAndGlyphs">3</text>
<text class="tk" text-anchor="middle" x="1628.6" y="670.8" textLength="13.6" lengthAdjust="spacingAndGlyphs">4</text>
<text class="tk" text-anchor="middle" x="1724.0" y="670.8" textLength="13.6" lengthAdjust="spacingAndGlyphs">5</text>
<path d="M1247.1 628.8V638.8M1342.5 628.8V638.8M1437.8 628.8V638.8M1533.2 628.8V638.8M1628.6 628.8V638.8M1724.0 628.8V638.8" stroke="#b4b8af" stroke-width="4" fill="none"/>
<text class="tk" text-anchor="middle" x="197.9" y="1105.8" textLength="13.6" lengthAdjust="spacingAndGlyphs">0</text>
<text class="tk" text-anchor="middle" x="293.2" y="1105.8" textLength="13.6" lengthAdjust="spacingAndGlyphs">1</text>
<text class="tk" text-anchor="middle" x="388.6" y="1105.8" textLength="13.6" lengthAdjust="spacingAndGlyphs">2</text>
<text class="tk" text-anchor="middle" x="484.0" y="1105.8" textLength="13.6" lengthAdjust="spacingAndGlyphs">3</text>
<text class="tk" text-anchor="middle" x="579.4" y="1105.8" textLength="13.6" lengthAdjust="spacingAndGlyphs">4</text>
<text class="tk" text-anchor="middle" x="674.8" y="1105.8" textLength="13.6" lengthAdjust="spacingAndGlyphs">5</text>
<path d="M197.9 1063.8V1073.8M293.2 1063.8V1073.8M388.6 1063.8V1073.8M484.0 1063.8V1073.8M579.4 1063.8V1073.8M674.8 1063.8V1073.8" stroke="#b4b8af" stroke-width="4" fill="none"/>
<text class="tk" text-anchor="middle" x="722.6" y="1105.8" textLength="13.6" lengthAdjust="spacingAndGlyphs">0</text>
<text class="tk" text-anchor="middle" x="818.0" y="1105.8" textLength="13.6" lengthAdjust="spacingAndGlyphs">1</text>
<text class="tk" text-anchor="middle" x="913.3" y="1105.8" textLength="13.6" lengthAdjust="spacingAndGlyphs">2</text>
<text class="tk" text-anchor="middle" x="1008.7" y="1105.8" textLength="13.6" lengthAdjust="spacingAndGlyphs">3</text>
<text class="tk" text-anchor="middle" x="1104.1" y="1105.8" textLength="13.6" lengthAdjust="spacingAndGlyphs">4</text>
<text class="tk" text-anchor="middle" x="1199.5" y="1105.8" textLength="13.6" lengthAdjust="spacingAndGlyphs">5</text>
<path d="M722.6 1063.8V1073.8M818.0 1063.8V1073.8M913.3 1063.8V1073.8M1008.7 1063.8V1073.8M1104.1 1063.8V1073.8M1199.5 1063.8V1073.8" stroke="#b4b8af" stroke-width="4" fill="none"/>
<text class="ax" text-anchor="middle" x="973.9" y="1158.3">carat</text>
<text class="ax" text-anchor="middle" transform="translate(73.6 672.8) rotate(-90)">price</text>
<text class="note" x="1261.5" y="907.5" style="font-size:55.5px">After</text>
<text class="note" x="1293" y="994.3" style="font-size:58.7px">thematic_shiny()</text>
</svg>
</body></html>
